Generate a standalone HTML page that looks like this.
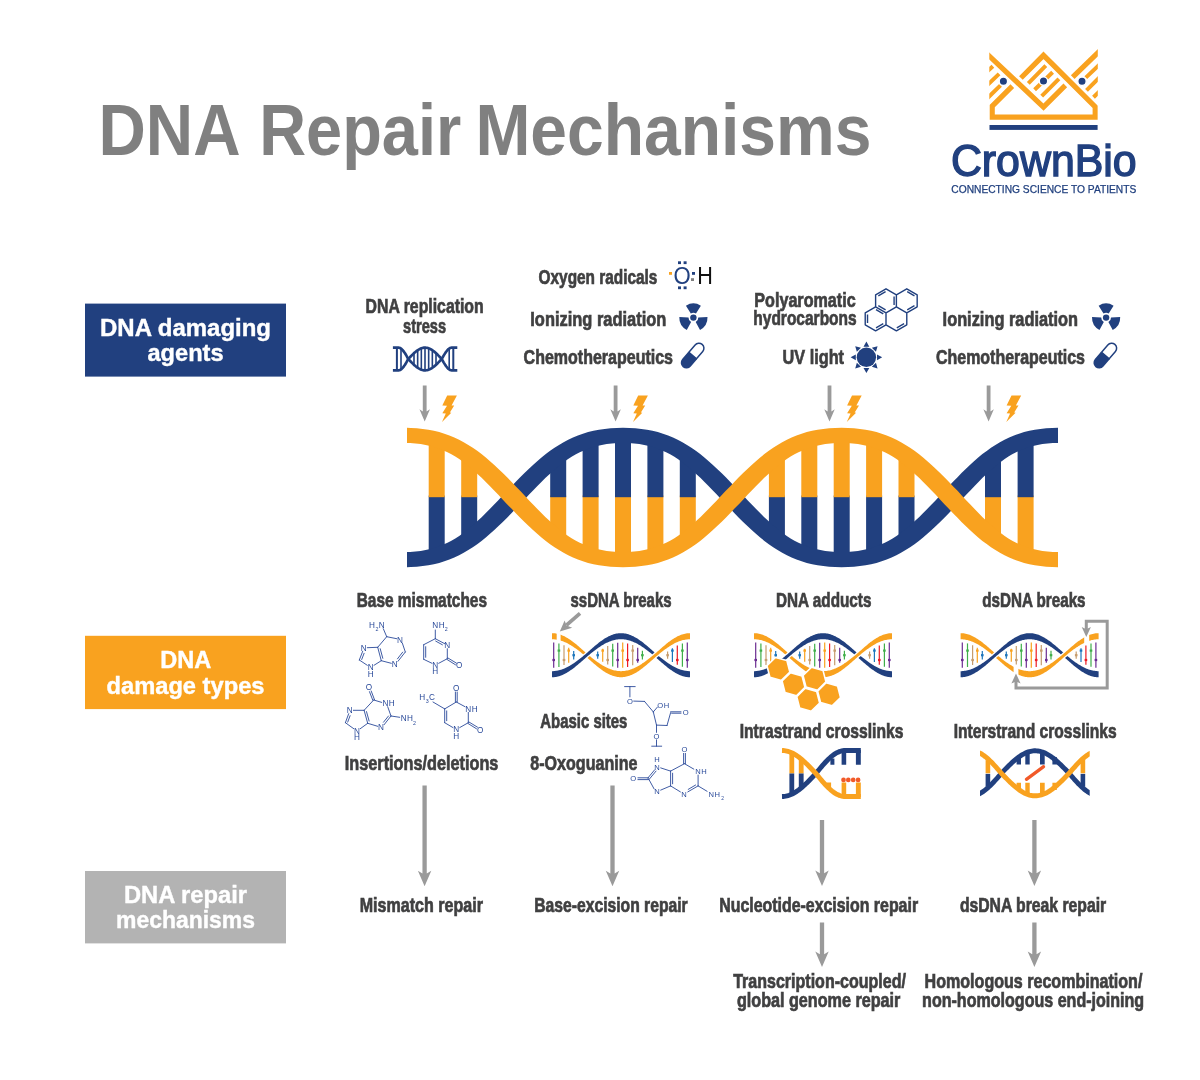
<!DOCTYPE html>
<html><head><meta charset="utf-8"><title>DNA Repair Mechanisms</title>
<style>
html,body{margin:0;padding:0;background:#fff;}
svg{display:block;font-family:"Liberation Sans",sans-serif;will-change:transform;}
</style></head><body>
<svg width="1200" height="1080" viewBox="0 0 1200 1080">
<rect width="1200" height="1080" fill="#fff"/>
<text x="98.5" y="155.0" font-size="72.5" font-weight="bold" fill="#808080" textLength="142.0" lengthAdjust="spacingAndGlyphs">DNA</text>
<text x="259.2" y="155.0" font-size="72.5" font-weight="bold" fill="#808080" textLength="202.0" lengthAdjust="spacingAndGlyphs">Repair</text>
<text x="475.4" y="155.0" font-size="72.5" font-weight="bold" fill="#808080" textLength="396.0" lengthAdjust="spacingAndGlyphs">Mechanisms</text>
<rect x="85" y="303.6" width="201" height="73" fill="#21407F"/>
<rect x="85" y="635.8" width="201" height="73.3" fill="#F9A21F"/>
<rect x="85" y="871" width="201" height="72.4" fill="#B3B3B3"/>
<clipPath id="lens"><path d="M407.0,435.5 L409.0,435.5 L411.0,435.6 L413.0,435.7 L415.0,435.8 L417.0,436.0 L419.0,436.2 L421.0,436.4 L423.0,436.7 L425.0,437.0 L427.0,437.3 L429.0,437.7 L431.0,438.2 L433.0,438.6 L435.0,439.2 L437.0,439.7 L439.0,440.3 L441.0,440.9 L443.0,441.7 L445.0,442.4 L447.0,443.2 L449.0,444.1 L451.0,444.9 L453.0,445.9 L455.0,446.9 L457.0,448.0 L459.0,449.1 L461.0,450.3 L463.0,451.5 L465.0,452.8 L467.0,454.2 L469.0,455.6 L471.0,457.1 L473.0,458.6 L475.0,460.1 L477.0,461.8 L479.0,463.4 L481.0,465.1 L483.0,466.9 L485.0,468.7 L487.0,470.5 L489.0,472.4 L491.0,474.3 L493.0,476.3 L495.0,478.2 L497.0,480.2 L499.0,482.3 L501.0,484.3 L503.0,486.4 L505.0,488.4 L507.0,490.5 L509.0,492.6 L511.0,494.8 L513.0,496.9 L515.0,496.0 L517.0,493.9 L519.0,491.8 L521.0,489.7 L523.0,487.6 L525.0,485.6 L527.0,483.5 L529.0,481.5 L531.0,479.5 L533.0,477.5 L535.0,475.5 L537.0,473.6 L539.0,471.7 L541.0,469.8 L543.0,468.0 L545.0,466.2 L547.0,464.5 L549.0,462.8 L551.0,461.1 L553.0,459.6 L555.0,458.0 L557.0,456.5 L559.0,455.1 L561.0,453.7 L563.0,452.4 L565.0,451.1 L567.0,449.9 L569.0,448.7 L571.0,447.6 L573.0,446.6 L575.0,445.6 L577.0,444.6 L579.0,443.8 L581.0,442.9 L583.0,442.2 L585.0,441.4 L587.0,440.7 L589.0,440.1 L591.0,439.5 L593.0,439.0 L595.0,438.5 L597.0,438.0 L599.0,437.6 L601.0,437.2 L603.0,436.9 L605.0,436.6 L607.0,436.3 L609.0,436.1 L611.0,435.9 L613.0,435.8 L615.0,435.6 L617.0,435.5 L619.0,435.5 L621.0,435.4 L623.0,435.4 L625.0,435.4 L627.0,435.5 L629.0,435.5 L631.0,435.6 L633.0,435.8 L635.0,435.9 L637.0,436.1 L639.0,436.3 L641.0,436.6 L643.0,436.9 L645.0,437.2 L647.0,437.6 L649.0,438.0 L651.0,438.5 L653.0,439.0 L655.0,439.5 L657.0,440.1 L659.0,440.7 L661.0,441.4 L663.0,442.2 L665.0,442.9 L667.0,443.8 L669.0,444.7 L671.0,445.6 L673.0,446.6 L675.0,447.6 L677.0,448.8 L679.0,449.9 L681.0,451.1 L683.0,452.4 L685.0,453.7 L687.0,455.1 L689.0,456.6 L691.0,458.1 L693.0,459.6 L695.0,461.2 L697.0,462.9 L699.0,464.5 L701.0,466.3 L703.0,468.1 L705.0,469.9 L707.0,471.8 L709.0,473.7 L711.0,475.6 L713.0,477.6 L715.0,479.5 L717.0,481.6 L719.0,483.6 L721.0,485.7 L723.0,487.7 L725.0,489.8 L727.0,491.9 L729.0,494.0 L731.0,496.1 L733.0,496.8 L735.0,494.6 L737.0,492.5 L739.0,490.4 L741.0,488.3 L743.0,486.3 L745.0,484.2 L747.0,482.2 L749.0,480.2 L751.0,478.2 L753.0,476.2 L755.0,474.3 L757.0,472.3 L759.0,470.5 L761.0,468.6 L763.0,466.8 L765.0,465.1 L767.0,463.4 L769.0,461.7 L771.0,460.1 L773.0,458.5 L775.0,457.0 L777.0,455.6 L779.0,454.2 L781.0,452.8 L783.0,451.5 L785.0,450.3 L787.0,449.1 L789.0,448.0 L791.0,446.9 L793.0,445.9 L795.0,444.9 L797.0,444.0 L799.0,443.2 L801.0,442.4 L803.0,441.6 L805.0,440.9 L807.0,440.3 L809.0,439.7 L811.0,439.1 L813.0,438.6 L815.0,438.2 L817.0,437.7 L819.0,437.3 L821.0,437.0 L823.0,436.7 L825.0,436.4 L827.0,436.2 L829.0,436.0 L831.0,435.8 L833.0,435.7 L835.0,435.6 L837.0,435.5 L839.0,435.5 L841.0,435.4 L843.0,435.4 L845.0,435.5 L847.0,435.5 L849.0,435.6 L851.0,435.7 L853.0,435.9 L855.0,436.1 L857.0,436.3 L859.0,436.5 L861.0,436.8 L863.0,437.1 L865.0,437.5 L867.0,437.9 L869.0,438.3 L871.0,438.8 L873.0,439.3 L875.0,439.9 L877.0,440.5 L879.0,441.2 L881.0,441.9 L883.0,442.7 L885.0,443.5 L887.0,444.4 L889.0,445.3 L891.0,446.3 L893.0,447.3 L895.0,448.4 L897.0,449.5 L899.0,450.7 L901.0,452.0 L903.0,453.3 L905.0,454.7 L907.0,456.1 L909.0,457.6 L911.0,459.1 L913.0,460.7 L915.0,462.3 L917.0,464.0 L919.0,465.7 L921.0,467.5 L923.0,469.3 L925.0,471.1 L927.0,473.0 L929.0,474.9 L931.0,476.9 L933.0,478.9 L935.0,480.9 L937.0,482.9 L939.0,484.9 L941.0,487.0 L943.0,489.1 L945.0,491.2 L947.0,493.3 L949.0,495.4 L951.0,497.5 L953.0,495.4 L955.0,493.2 L957.0,491.1 L959.0,488.9 L961.0,486.8 L963.0,484.7 L965.0,482.6 L967.0,480.6 L969.0,478.5 L971.0,476.5 L973.0,474.5 L975.0,472.6 L977.0,470.7 L979.0,468.8 L981.0,467.0 L983.0,465.2 L985.0,463.4 L987.0,461.8 L989.0,460.1 L991.0,458.5 L993.0,457.0 L995.0,455.5 L997.0,454.1 L999.0,452.7 L1001.0,451.4 L1003.0,450.1 L1005.0,448.9 L1007.0,447.8 L1009.0,446.7 L1011.0,445.7 L1013.0,444.7 L1015.0,443.9 L1017.0,443.0 L1019.0,442.2 L1021.0,441.4 L1023.0,440.8 L1025.0,440.1 L1027.0,439.5 L1029.0,439.0 L1031.0,438.4 L1033.0,438.0 L1035.0,437.6 L1037.0,437.2 L1039.0,436.9 L1041.0,436.6 L1043.0,436.3 L1045.0,436.1 L1047.0,435.9 L1049.0,435.7 L1051.0,435.6 L1053.0,435.5 L1055.0,435.5 L1057.0,435.4 L1057.0,559.6 L1055.0,559.5 L1053.0,559.5 L1051.0,559.4 L1049.0,559.3 L1047.0,559.1 L1045.0,558.9 L1043.0,558.7 L1041.0,558.4 L1039.0,558.1 L1037.0,557.8 L1035.0,557.4 L1033.0,557.0 L1031.0,556.6 L1029.0,556.0 L1027.0,555.5 L1025.0,554.9 L1023.0,554.2 L1021.0,553.6 L1019.0,552.8 L1017.0,552.0 L1015.0,551.1 L1013.0,550.3 L1011.0,549.3 L1009.0,548.3 L1007.0,547.2 L1005.0,546.1 L1003.0,544.9 L1001.0,543.6 L999.0,542.3 L997.0,540.9 L995.0,539.5 L993.0,538.0 L991.0,536.5 L989.0,534.9 L987.0,533.2 L985.0,531.6 L983.0,529.8 L981.0,528.0 L979.0,526.2 L977.0,524.3 L975.0,522.4 L973.0,520.5 L971.0,518.5 L969.0,516.5 L967.0,514.4 L965.0,512.4 L963.0,510.3 L961.0,508.2 L959.0,506.1 L957.0,503.9 L955.0,501.8 L953.0,499.6 L951.0,497.5 L949.0,499.6 L947.0,501.7 L945.0,503.8 L943.0,505.9 L941.0,508.0 L939.0,510.1 L937.0,512.1 L935.0,514.1 L933.0,516.1 L931.0,518.1 L929.0,520.1 L927.0,522.0 L925.0,523.9 L923.0,525.7 L921.0,527.5 L919.0,529.3 L917.0,531.0 L915.0,532.7 L913.0,534.3 L911.0,535.9 L909.0,537.4 L907.0,538.9 L905.0,540.3 L903.0,541.7 L901.0,543.0 L899.0,544.3 L897.0,545.5 L895.0,546.6 L893.0,547.7 L891.0,548.7 L889.0,549.7 L887.0,550.6 L885.0,551.5 L883.0,552.3 L881.0,553.1 L879.0,553.8 L877.0,554.5 L875.0,555.1 L873.0,555.7 L871.0,556.2 L869.0,556.7 L867.0,557.1 L865.0,557.5 L863.0,557.9 L861.0,558.2 L859.0,558.5 L857.0,558.7 L855.0,558.9 L853.0,559.1 L851.0,559.3 L849.0,559.4 L847.0,559.5 L845.0,559.5 L843.0,559.6 L841.0,559.6 L839.0,559.5 L837.0,559.5 L835.0,559.4 L833.0,559.3 L831.0,559.2 L829.0,559.0 L827.0,558.8 L825.0,558.6 L823.0,558.3 L821.0,558.0 L819.0,557.7 L817.0,557.3 L815.0,556.8 L813.0,556.4 L811.0,555.9 L809.0,555.3 L807.0,554.7 L805.0,554.1 L803.0,553.4 L801.0,552.6 L799.0,551.8 L797.0,551.0 L795.0,550.1 L793.0,549.1 L791.0,548.1 L789.0,547.0 L787.0,545.9 L785.0,544.7 L783.0,543.5 L781.0,542.2 L779.0,540.8 L777.0,539.4 L775.0,538.0 L773.0,536.5 L771.0,534.9 L769.0,533.3 L767.0,531.6 L765.0,529.9 L763.0,528.2 L761.0,526.4 L759.0,524.5 L757.0,522.7 L755.0,520.7 L753.0,518.8 L751.0,516.8 L749.0,514.8 L747.0,512.8 L745.0,510.8 L743.0,508.7 L741.0,506.7 L739.0,504.6 L737.0,502.5 L735.0,500.4 L733.0,498.2 L731.0,498.9 L729.0,501.0 L727.0,503.1 L725.0,505.2 L723.0,507.3 L721.0,509.3 L719.0,511.4 L717.0,513.4 L715.0,515.5 L713.0,517.4 L711.0,519.4 L709.0,521.3 L707.0,523.2 L705.0,525.1 L703.0,526.9 L701.0,528.7 L699.0,530.5 L697.0,532.1 L695.0,533.8 L693.0,535.4 L691.0,536.9 L689.0,538.4 L687.0,539.9 L685.0,541.3 L683.0,542.6 L681.0,543.9 L679.0,545.1 L677.0,546.2 L675.0,547.4 L673.0,548.4 L671.0,549.4 L669.0,550.3 L667.0,551.2 L665.0,552.1 L663.0,552.8 L661.0,553.6 L659.0,554.3 L657.0,554.9 L655.0,555.5 L653.0,556.0 L651.0,556.5 L649.0,557.0 L647.0,557.4 L645.0,557.8 L643.0,558.1 L641.0,558.4 L639.0,558.7 L637.0,558.9 L635.0,559.1 L633.0,559.2 L631.0,559.4 L629.0,559.5 L627.0,559.5 L625.0,559.6 L623.0,559.6 L621.0,559.6 L619.0,559.5 L617.0,559.5 L615.0,559.4 L613.0,559.2 L611.0,559.1 L609.0,558.9 L607.0,558.7 L605.0,558.4 L603.0,558.1 L601.0,557.8 L599.0,557.4 L597.0,557.0 L595.0,556.5 L593.0,556.0 L591.0,555.5 L589.0,554.9 L587.0,554.3 L585.0,553.6 L583.0,552.8 L581.0,552.1 L579.0,551.2 L577.0,550.4 L575.0,549.4 L573.0,548.4 L571.0,547.4 L569.0,546.3 L567.0,545.1 L565.0,543.9 L563.0,542.6 L561.0,541.3 L559.0,539.9 L557.0,538.5 L555.0,537.0 L553.0,535.4 L551.0,533.9 L549.0,532.2 L547.0,530.5 L545.0,528.8 L543.0,527.0 L541.0,525.2 L539.0,523.3 L537.0,521.4 L535.0,519.5 L533.0,517.5 L531.0,515.5 L529.0,513.5 L527.0,511.5 L525.0,509.4 L523.0,507.4 L521.0,505.3 L519.0,503.2 L517.0,501.1 L515.0,499.0 L513.0,498.1 L511.0,500.2 L509.0,502.4 L507.0,504.5 L505.0,506.6 L503.0,508.6 L501.0,510.7 L499.0,512.7 L497.0,514.8 L495.0,516.8 L493.0,518.7 L491.0,520.7 L489.0,522.6 L487.0,524.5 L485.0,526.3 L483.0,528.1 L481.0,529.9 L479.0,531.6 L477.0,533.2 L475.0,534.9 L473.0,536.4 L471.0,537.9 L469.0,539.4 L467.0,540.8 L465.0,542.2 L463.0,543.5 L461.0,544.7 L459.0,545.9 L457.0,547.0 L455.0,548.1 L453.0,549.1 L451.0,550.1 L449.0,550.9 L447.0,551.8 L445.0,552.6 L443.0,553.3 L441.0,554.1 L439.0,554.7 L437.0,555.3 L435.0,555.8 L433.0,556.4 L431.0,556.8 L429.0,557.3 L427.0,557.7 L425.0,558.0 L423.0,558.3 L421.0,558.6 L419.0,558.8 L417.0,559.0 L415.0,559.2 L413.0,559.3 L411.0,559.4 L409.0,559.5 L407.0,559.5Z"/></clipPath>
<clipPath id="hx"><rect x="407" y="410" width="651" height="175"/></clipPath>
<g clip-path="url(#lens)">
<rect x="428.7" y="495.5" width="16" height="66.1" fill="#21407F"/>
<rect x="428.7" y="433.4" width="16" height="63.8" fill="#F9A21F"/>
<rect x="461.2" y="495.5" width="16" height="66.1" fill="#21407F"/>
<rect x="461.2" y="433.4" width="16" height="63.8" fill="#F9A21F"/>
<rect x="550.2" y="495.5" width="16" height="66.1" fill="#F9A21F"/>
<rect x="550.2" y="433.4" width="16" height="63.8" fill="#21407F"/>
<rect x="582.6" y="495.5" width="16" height="66.1" fill="#F9A21F"/>
<rect x="582.6" y="433.4" width="16" height="63.8" fill="#21407F"/>
<rect x="615.0" y="495.5" width="16" height="66.1" fill="#F9A21F"/>
<rect x="615.0" y="433.4" width="16" height="63.8" fill="#21407F"/>
<rect x="647.4" y="495.5" width="16" height="66.1" fill="#F9A21F"/>
<rect x="647.4" y="433.4" width="16" height="63.8" fill="#21407F"/>
<rect x="679.8" y="495.5" width="16" height="66.1" fill="#F9A21F"/>
<rect x="679.8" y="433.4" width="16" height="63.8" fill="#21407F"/>
<rect x="768.9" y="495.5" width="16" height="66.1" fill="#21407F"/>
<rect x="768.9" y="433.4" width="16" height="63.8" fill="#F9A21F"/>
<rect x="801.3" y="495.5" width="16" height="66.1" fill="#21407F"/>
<rect x="801.3" y="433.4" width="16" height="63.8" fill="#F9A21F"/>
<rect x="833.7" y="495.5" width="16" height="66.1" fill="#21407F"/>
<rect x="833.7" y="433.4" width="16" height="63.8" fill="#F9A21F"/>
<rect x="866.1" y="495.5" width="16" height="66.1" fill="#21407F"/>
<rect x="866.1" y="433.4" width="16" height="63.8" fill="#F9A21F"/>
<rect x="898.5" y="495.5" width="16" height="66.1" fill="#21407F"/>
<rect x="898.5" y="433.4" width="16" height="63.8" fill="#F9A21F"/>
<rect x="985.0" y="495.5" width="16" height="66.1" fill="#F9A21F"/>
<rect x="985.0" y="433.4" width="16" height="63.8" fill="#21407F"/>
<rect x="1017.6" y="495.5" width="16" height="66.1" fill="#F9A21F"/>
<rect x="1017.6" y="433.4" width="16" height="63.8" fill="#21407F"/>
</g>
<g clip-path="url(#hx)">
<path d="M404.2,552.0 L410.1,551.9 L415.5,551.5 L420.7,550.9 L425.6,550.1 L430.3,549.0 L434.8,547.8 L439.2,546.3 L443.4,544.6 L447.5,542.7 L451.4,540.7 L455.3,538.4 L459.2,535.9 L463.0,533.2 L466.7,530.3 L470.5,527.3 L474.2,524.0 L478.0,520.5 L481.9,516.9 L485.8,513.0 L489.8,509.0 L493.9,504.8 L498.1,500.4 L502.4,495.8 L506.8,491.1 L511.4,486.4 L515.8,481.8 L520.2,477.3 L524.5,473.0 L528.7,468.9 L533.0,464.9 L537.2,461.2 L541.5,457.5 L545.8,454.1 L550.1,450.8 L554.5,447.8 L559.0,444.9 L563.6,442.2 L568.2,439.7 L573.0,437.5 L577.9,435.5 L582.9,433.7 L588.1,432.1 L593.5,430.8 L599.0,429.7 L604.7,428.9 L610.6,428.3 L616.7,427.9 L623.0,427.8 L629.3,427.9 L635.4,428.3 L641.3,428.9 L647.0,429.7 L652.5,430.8 L657.8,432.1 L663.0,433.7 L668.1,435.5 L673.0,437.5 L677.7,439.7 L682.4,442.2 L687.0,444.9 L691.4,447.8 L695.8,450.8 L700.2,454.1 L704.4,457.5 L708.7,461.2 L712.9,464.9 L717.2,468.9 L721.5,473.0 L725.8,477.3 L730.1,481.8 L734.5,486.4 L739.1,491.1 L743.5,495.8 L747.8,500.4 L752.0,504.8 L756.1,509.0 L760.1,513.0 L764.0,516.9 L767.9,520.5 L771.7,524.0 L775.5,527.3 L779.2,530.3 L783.0,533.2 L786.8,535.9 L790.6,538.4 L794.5,540.7 L798.5,542.7 L802.6,544.6 L806.8,546.3 L811.1,547.8 L815.7,549.0 L820.4,550.1 L825.3,550.9 L830.5,551.5 L835.9,551.9 L841.6,552.0 L847.3,551.9 L852.7,551.5 L857.9,550.9 L862.8,550.1 L867.6,549.0 L872.1,547.8 L876.5,546.3 L880.7,544.6 L884.8,542.7 L888.7,540.7 L892.6,538.4 L896.5,535.9 L900.3,533.2 L904.0,530.3 L907.8,527.3 L911.6,524.0 L915.4,520.5 L919.3,516.9 L923.2,513.0 L927.2,509.0 L931.3,504.8 L935.5,500.4 L939.8,495.8 L944.2,491.1 L948.6,486.4 L953.0,481.8 L957.3,477.4 L961.5,473.1 L965.7,469.0 L969.9,465.0 L974.0,461.2 L978.2,457.6 L982.4,454.1 L986.7,450.9 L991.0,447.8 L995.4,444.9 L999.9,442.2 L1004.5,439.8 L1009.2,437.5 L1014.0,435.5 L1019.0,433.7 L1024.1,432.1 L1029.4,430.8 L1034.8,429.7 L1040.4,428.9 L1046.2,428.3 L1052.2,427.9 L1058.2,427.8 L1058.6,443.0 L1052.8,443.1 L1047.5,443.5 L1042.4,444.1 L1037.6,444.9 L1033.0,446.0 L1028.5,447.2 L1024.3,448.7 L1020.1,450.4 L1016.1,452.2 L1012.2,454.3 L1008.4,456.6 L1004.7,459.1 L1001.0,461.7 L997.3,464.6 L993.6,467.7 L989.9,470.9 L986.1,474.4 L982.3,478.1 L978.5,481.9 L974.6,485.9 L970.6,490.2 L966.4,494.5 L962.2,499.1 L957.8,503.9 L953.2,508.6 L948.8,513.2 L944.4,517.7 L940.1,522.0 L935.9,526.1 L931.6,530.1 L927.4,533.8 L923.1,537.5 L918.8,540.9 L914.5,544.2 L910.1,547.2 L905.6,550.1 L901.0,552.8 L896.4,555.3 L891.6,557.5 L886.7,559.5 L881.7,561.3 L876.5,562.9 L871.1,564.2 L865.6,565.3 L859.9,566.1 L854.0,566.7 L847.9,567.1 L841.6,567.2 L835.3,567.1 L829.2,566.7 L823.3,566.1 L817.6,565.3 L812.1,564.2 L806.8,562.9 L801.6,561.3 L796.5,559.5 L791.6,557.5 L786.9,555.3 L782.2,552.8 L777.6,550.1 L773.2,547.2 L768.8,544.2 L764.4,540.9 L760.2,537.5 L755.9,533.8 L751.7,530.1 L747.4,526.1 L743.1,522.0 L738.8,517.7 L734.5,513.2 L730.1,508.6 L725.5,503.9 L721.1,499.2 L716.8,494.6 L712.6,490.2 L708.5,486.0 L704.5,482.0 L700.6,478.1 L696.7,474.5 L692.9,471.0 L689.1,467.7 L685.4,464.7 L681.6,461.8 L677.8,459.1 L674.0,456.6 L670.1,454.3 L666.1,452.3 L662.0,450.4 L657.8,448.7 L653.5,447.2 L648.9,446.0 L644.2,444.9 L639.3,444.1 L634.1,443.5 L628.7,443.1 L623.0,443.0 L617.3,443.1 L611.9,443.5 L606.7,444.1 L601.8,444.9 L597.0,446.0 L592.5,447.2 L588.1,448.7 L583.9,450.4 L579.8,452.3 L575.9,454.3 L572.0,456.6 L568.1,459.1 L564.3,461.8 L560.6,464.7 L556.8,467.7 L553.0,471.0 L549.2,474.5 L545.3,478.1 L541.4,482.0 L537.4,486.0 L533.3,490.2 L529.1,494.6 L524.8,499.2 L520.4,503.9 L515.9,508.6 L511.4,513.2 L507.1,517.7 L502.8,522.0 L498.5,526.1 L494.3,530.1 L490.0,533.8 L485.8,537.5 L481.5,540.9 L477.2,544.2 L472.8,547.2 L468.3,550.1 L463.7,552.8 L459.1,555.3 L454.3,557.5 L449.4,559.5 L444.4,561.3 L439.2,562.9 L433.9,564.2 L428.4,565.3 L422.7,566.1 L416.8,566.7 L410.7,567.1 L404.6,567.2Z" fill="#21407F"/>
<path d="M404.6,427.8 L410.7,427.9 L416.8,428.3 L422.7,428.9 L428.4,429.7 L433.9,430.8 L439.2,432.1 L444.4,433.7 L449.4,435.5 L454.3,437.5 L459.1,439.7 L463.7,442.2 L468.3,444.9 L472.8,447.8 L477.2,450.8 L481.5,454.1 L485.8,457.5 L490.0,461.2 L494.3,464.9 L498.5,468.9 L502.8,473.0 L507.1,477.3 L511.4,481.8 L515.9,486.4 L520.4,491.1 L524.8,495.8 L529.1,500.4 L533.3,504.8 L537.4,509.0 L541.4,513.0 L545.3,516.9 L549.2,520.5 L553.0,524.0 L556.8,527.3 L560.6,530.3 L564.3,533.2 L568.1,535.9 L572.0,538.4 L575.9,540.7 L579.8,542.7 L583.9,544.6 L588.1,546.3 L592.5,547.8 L597.0,549.0 L601.8,550.1 L606.7,550.9 L611.9,551.5 L617.3,551.9 L623.0,552.0 L628.7,551.9 L634.1,551.5 L639.3,550.9 L644.2,550.1 L648.9,549.0 L653.5,547.8 L657.8,546.3 L662.0,544.6 L666.1,542.7 L670.1,540.7 L674.0,538.4 L677.8,535.9 L681.6,533.2 L685.4,530.3 L689.1,527.3 L692.9,524.0 L696.7,520.5 L700.6,516.9 L704.5,513.0 L708.5,509.0 L712.6,504.8 L716.8,500.4 L721.1,495.8 L725.5,491.1 L730.1,486.4 L734.5,481.8 L738.8,477.3 L743.1,473.0 L747.4,468.9 L751.7,464.9 L755.9,461.2 L760.2,457.5 L764.4,454.1 L768.8,450.8 L773.2,447.8 L777.6,444.9 L782.2,442.2 L786.9,439.7 L791.6,437.5 L796.5,435.5 L801.6,433.7 L806.8,432.1 L812.1,430.8 L817.6,429.7 L823.3,428.9 L829.2,428.3 L835.3,427.9 L841.6,427.8 L847.9,427.9 L854.0,428.3 L859.9,428.9 L865.6,429.7 L871.1,430.8 L876.5,432.1 L881.7,433.7 L886.7,435.5 L891.6,437.5 L896.4,439.7 L901.0,442.2 L905.6,444.9 L910.1,447.8 L914.5,450.8 L918.8,454.1 L923.1,457.5 L927.4,461.2 L931.6,464.9 L935.9,468.9 L940.1,473.0 L944.4,477.3 L948.8,481.8 L953.2,486.4 L957.8,491.1 L962.2,495.9 L966.4,500.5 L970.6,504.8 L974.6,509.1 L978.5,513.1 L982.3,516.9 L986.1,520.6 L989.9,524.1 L993.6,527.3 L997.3,530.4 L1001.0,533.3 L1004.7,535.9 L1008.4,538.4 L1012.2,540.7 L1016.1,542.8 L1020.1,544.6 L1024.3,546.3 L1028.5,547.8 L1033.0,549.0 L1037.6,550.1 L1042.4,550.9 L1047.5,551.5 L1052.8,551.9 L1058.6,552.0 L1058.2,567.2 L1052.2,567.1 L1046.2,566.7 L1040.4,566.1 L1034.8,565.3 L1029.4,564.2 L1024.1,562.9 L1019.0,561.3 L1014.0,559.5 L1009.2,557.5 L1004.5,555.2 L999.9,552.8 L995.4,550.1 L991.0,547.2 L986.7,544.1 L982.4,540.9 L978.2,537.4 L974.0,533.8 L969.9,530.0 L965.7,526.0 L961.5,521.9 L957.3,517.6 L953.0,513.2 L948.6,508.6 L944.2,503.9 L939.8,499.2 L935.5,494.6 L931.3,490.2 L927.2,486.0 L923.2,482.0 L919.3,478.1 L915.4,474.5 L911.6,471.0 L907.8,467.7 L904.0,464.7 L900.3,461.8 L896.5,459.1 L892.6,456.6 L888.7,454.3 L884.8,452.3 L880.7,450.4 L876.5,448.7 L872.1,447.2 L867.6,446.0 L862.8,444.9 L857.9,444.1 L852.7,443.5 L847.3,443.1 L841.6,443.0 L835.9,443.1 L830.5,443.5 L825.3,444.1 L820.4,444.9 L815.7,446.0 L811.1,447.2 L806.8,448.7 L802.6,450.4 L798.5,452.3 L794.5,454.3 L790.6,456.6 L786.8,459.1 L783.0,461.8 L779.2,464.7 L775.5,467.7 L771.7,471.0 L767.9,474.5 L764.0,478.1 L760.1,482.0 L756.1,486.0 L752.0,490.2 L747.8,494.6 L743.5,499.2 L739.1,503.9 L734.5,508.6 L730.1,513.2 L725.8,517.7 L721.5,522.0 L717.2,526.1 L712.9,530.1 L708.7,533.8 L704.4,537.5 L700.2,540.9 L695.8,544.2 L691.4,547.2 L687.0,550.1 L682.4,552.8 L677.7,555.3 L673.0,557.5 L668.1,559.5 L663.0,561.3 L657.8,562.9 L652.5,564.2 L647.0,565.3 L641.3,566.1 L635.4,566.7 L629.3,567.1 L623.0,567.2 L616.7,567.1 L610.6,566.7 L604.7,566.1 L599.0,565.3 L593.5,564.2 L588.1,562.9 L582.9,561.3 L577.9,559.5 L573.0,557.5 L568.2,555.3 L563.6,552.8 L559.0,550.1 L554.5,547.2 L550.1,544.2 L545.8,540.9 L541.5,537.5 L537.2,533.8 L533.0,530.1 L528.7,526.1 L524.5,522.0 L520.2,517.7 L515.8,513.2 L511.4,508.6 L506.8,503.9 L502.4,499.2 L498.1,494.6 L493.9,490.2 L489.8,486.0 L485.8,482.0 L481.9,478.1 L478.0,474.5 L474.2,471.0 L470.5,467.7 L466.7,464.7 L463.0,461.8 L459.2,459.1 L455.3,456.6 L451.4,454.3 L447.5,452.3 L443.4,450.4 L439.2,448.7 L434.8,447.2 L430.3,446.0 L425.6,444.9 L420.7,444.1 L415.5,443.5 L410.1,443.1 L404.2,443.0Z" fill="#F9A21F"/>
</g>
<text x="100.0" y="336.2" font-size="23.8" font-weight="bold" fill="#fff" textLength="171.0" lengthAdjust="spacingAndGlyphs" stroke="#fff" stroke-width="0.4">DNA damaging</text>
<text x="147.5" y="361.0" font-size="23.8" font-weight="bold" fill="#fff" textLength="76.0" lengthAdjust="spacingAndGlyphs" stroke="#fff" stroke-width="0.4">agents</text>
<text x="160.2" y="667.9" font-size="23.8" font-weight="bold" fill="#fff" textLength="51.0" lengthAdjust="spacingAndGlyphs" stroke="#fff" stroke-width="0.4">DNA</text>
<text x="106.5" y="693.5" font-size="23.8" font-weight="bold" fill="#fff" textLength="158.0" lengthAdjust="spacingAndGlyphs" stroke="#fff" stroke-width="0.4">damage types</text>
<text x="124.0" y="902.5" font-size="23.8" font-weight="bold" fill="#fff" textLength="123.0" lengthAdjust="spacingAndGlyphs" stroke="#fff" stroke-width="0.4">DNA repair</text>
<text x="116.0" y="927.8" font-size="23.8" font-weight="bold" fill="#fff" textLength="139.0" lengthAdjust="spacingAndGlyphs" stroke="#fff" stroke-width="0.4">mechanisms</text>
<text x="365.6" y="313.3" font-size="20.5" font-weight="bold" fill="#404041" textLength="118.1" lengthAdjust="spacingAndGlyphs" stroke="#404041" stroke-width="0.7">DNA replication</text>
<text x="403.0" y="333.3" font-size="20.5" font-weight="bold" fill="#404041" textLength="43.1" lengthAdjust="spacingAndGlyphs" stroke="#404041" stroke-width="0.7">stress</text>
<text x="538.6" y="284.3" font-size="20.5" font-weight="bold" fill="#404041" textLength="118.8" lengthAdjust="spacingAndGlyphs" stroke="#404041" stroke-width="0.7">Oxygen radicals</text>
<text x="530.3" y="326.0" font-size="20.5" font-weight="bold" fill="#404041" textLength="136.1" lengthAdjust="spacingAndGlyphs" stroke="#404041" stroke-width="0.7">Ionizing radiation</text>
<text x="523.6" y="364.0" font-size="20.5" font-weight="bold" fill="#404041" textLength="149.4" lengthAdjust="spacingAndGlyphs" stroke="#404041" stroke-width="0.7">Chemotherapeutics</text>
<text x="754.3" y="306.5" font-size="20.5" font-weight="bold" fill="#404041" textLength="101.4" lengthAdjust="spacingAndGlyphs" stroke="#404041" stroke-width="0.7">Polyaromatic</text>
<text x="753.3" y="325.0" font-size="20.5" font-weight="bold" fill="#404041" textLength="103.4" lengthAdjust="spacingAndGlyphs" stroke="#404041" stroke-width="0.7">hydrocarbons</text>
<text x="782.6" y="363.9" font-size="20.5" font-weight="bold" fill="#404041" textLength="61.4" lengthAdjust="spacingAndGlyphs" stroke="#404041" stroke-width="0.7">UV light</text>
<text x="942.6" y="326.0" font-size="20.5" font-weight="bold" fill="#404041" textLength="135.4" lengthAdjust="spacingAndGlyphs" stroke="#404041" stroke-width="0.7">Ionizing radiation</text>
<text x="936.0" y="364.0" font-size="20.5" font-weight="bold" fill="#404041" textLength="149.0" lengthAdjust="spacingAndGlyphs" stroke="#404041" stroke-width="0.7">Chemotherapeutics</text>
<text x="356.7" y="606.9" font-size="20.5" font-weight="bold" fill="#404041" textLength="130.3" lengthAdjust="spacingAndGlyphs" stroke="#404041" stroke-width="0.7">Base mismatches</text>
<text x="570.5" y="606.9" font-size="20.5" font-weight="bold" fill="#404041" textLength="101.1" lengthAdjust="spacingAndGlyphs" stroke="#404041" stroke-width="0.7">ssDNA breaks</text>
<text x="776.0" y="606.9" font-size="20.5" font-weight="bold" fill="#404041" textLength="95.4" lengthAdjust="spacingAndGlyphs" stroke="#404041" stroke-width="0.7">DNA adducts</text>
<text x="982.2" y="606.9" font-size="20.5" font-weight="bold" fill="#404041" textLength="103.4" lengthAdjust="spacingAndGlyphs" stroke="#404041" stroke-width="0.7">dsDNA breaks</text>
<text x="540.3" y="728.3" font-size="20.5" font-weight="bold" fill="#404041" textLength="87.1" lengthAdjust="spacingAndGlyphs" stroke="#404041" stroke-width="0.7">Abasic sites</text>
<text x="530.3" y="770.0" font-size="20.5" font-weight="bold" fill="#404041" textLength="107.1" lengthAdjust="spacingAndGlyphs" stroke="#404041" stroke-width="0.7">8-Oxoguanine</text>
<text x="344.8" y="770.0" font-size="20.5" font-weight="bold" fill="#404041" textLength="153.6" lengthAdjust="spacingAndGlyphs" stroke="#404041" stroke-width="0.7">Insertions/deletions</text>
<text x="739.7" y="738.4" font-size="20.5" font-weight="bold" fill="#404041" textLength="163.7" lengthAdjust="spacingAndGlyphs" stroke="#404041" stroke-width="0.7">Intrastrand crosslinks</text>
<text x="953.7" y="738.4" font-size="20.5" font-weight="bold" fill="#404041" textLength="163.0" lengthAdjust="spacingAndGlyphs" stroke="#404041" stroke-width="0.7">Interstrand crosslinks</text>
<text x="359.7" y="912.0" font-size="20.5" font-weight="bold" fill="#404041" textLength="123.2" lengthAdjust="spacingAndGlyphs" stroke="#404041" stroke-width="0.7">Mismatch repair</text>
<text x="534.3" y="912.0" font-size="20.5" font-weight="bold" fill="#404041" textLength="153.4" lengthAdjust="spacingAndGlyphs" stroke="#404041" stroke-width="0.7">Base-excision repair</text>
<text x="719.2" y="912.0" font-size="20.5" font-weight="bold" fill="#404041" textLength="198.9" lengthAdjust="spacingAndGlyphs" stroke="#404041" stroke-width="0.7">Nucleotide-excision repair</text>
<text x="959.9" y="912.0" font-size="20.5" font-weight="bold" fill="#404041" textLength="146.3" lengthAdjust="spacingAndGlyphs" stroke="#404041" stroke-width="0.7">dsDNA break repair</text>
<text x="733.2" y="987.9" font-size="20.5" font-weight="bold" fill="#404041" textLength="172.7" lengthAdjust="spacingAndGlyphs" stroke="#404041" stroke-width="0.7">Transcription-coupled/</text>
<text x="736.9" y="1007.1" font-size="20.5" font-weight="bold" fill="#404041" textLength="163.5" lengthAdjust="spacingAndGlyphs" stroke="#404041" stroke-width="0.7">global genome repair</text>
<text x="924.6" y="987.9" font-size="20.5" font-weight="bold" fill="#404041" textLength="217.8" lengthAdjust="spacingAndGlyphs" stroke="#404041" stroke-width="0.7">Homologous recombination/</text>
<text x="922.1" y="1007.1" font-size="20.5" font-weight="bold" fill="#404041" textLength="222.1" lengthAdjust="spacingAndGlyphs" stroke="#404041" stroke-width="0.7">non-homologous end-joining</text>
<path d="M422.80,385.5 H426.60 V411.5 L429.95,409.3 L424.70,421.6 L419.45,409.3 L422.80,411.5 Z" fill="#9A9A9A"/>
<path d="M447.2,395.5 L456.9,395.5 L451.6,405.4 L454.2,405.4 L449.9,412.4 L451.3,412.7 L442.0,422.0 L445.8,413.6 L442.3,413.3 L447.0,405.7 L442.3,405.4Z" fill="#F9A21F"/>
<path d="M613.70,385.5 H617.50 V411.5 L620.85,409.3 L615.60,421.6 L610.35,409.3 L613.70,411.5 Z" fill="#9A9A9A"/>
<path d="M638.2,395.5 L647.9,395.5 L642.6,405.4 L645.2,405.4 L640.9,412.4 L642.3,412.7 L633.0,422.0 L636.8,413.6 L633.3,413.3 L638.0,405.7 L633.3,405.4Z" fill="#F9A21F"/>
<path d="M827.60,385.5 H831.40 V411.5 L834.75,409.3 L829.50,421.6 L824.25,409.3 L827.60,411.5 Z" fill="#9A9A9A"/>
<path d="M852.0,395.5 L861.7,395.5 L856.4,405.4 L859.0,405.4 L854.7,412.4 L856.1,412.7 L846.8,422.0 L850.6,413.6 L847.1,413.3 L851.8,405.7 L847.1,405.4Z" fill="#F9A21F"/>
<path d="M986.70,385.5 H990.50 V411.5 L993.85,409.3 L988.60,421.6 L983.35,409.3 L986.70,411.5 Z" fill="#9A9A9A"/>
<path d="M1011.5,395.5 L1021.2,395.5 L1015.9,405.4 L1018.5,405.4 L1014.2,412.4 L1015.6,412.7 L1006.3,422.0 L1010.1,413.6 L1006.6,413.3 L1011.3,405.7 L1006.6,405.4Z" fill="#F9A21F"/>
<path d="M422.45,785.6 H426.75 V873.5 L431.30,870.7 L424.60,886.2 L417.90,870.7 L422.45,873.5 Z" fill="#9A9A9A"/>
<path d="M610.35,785.6 H614.65 V873.5 L619.20,870.7 L612.50,886.2 L605.80,870.7 L610.35,873.5 Z" fill="#9A9A9A"/>
<path d="M819.85,820.0 H824.15 V873.3 L828.70,870.5 L822.00,886.0 L815.30,870.5 L819.85,873.3 Z" fill="#9A9A9A"/>
<path d="M1032.25,820.0 H1036.55 V873.3 L1041.10,870.5 L1034.40,886.0 L1027.70,870.5 L1032.25,873.3 Z" fill="#9A9A9A"/>
<path d="M819.85,922.5 H824.15 V954.3 L828.70,951.5 L822.00,967.0 L815.30,951.5 L819.85,954.3 Z" fill="#9A9A9A"/>
<path d="M1032.25,922.5 H1036.55 V954.3 L1041.10,951.5 L1034.40,967.0 L1027.70,951.5 L1032.25,954.3 Z" fill="#9A9A9A"/>
<g fill="none" stroke="#21407F">
<path d="M413.99,353.21V364.79M417.66,350.25V367.75M421.33,348.32V369.68M425.00,347.65V370.35M428.67,348.32V369.68M432.34,350.25V367.75M436.01,353.21V364.79M401.00,348.60V369.40M449.20,348.57V369.43" stroke-width="1.6"/>
<path d="M396.9,347.65V370.35M453.30,347.65V370.35" stroke-width="2.0"/>
<path d="M392.90,370.35 L393.70,370.35 L394.49,370.35 L395.29,370.35 L396.08,370.35 L396.88,370.35 L397.67,370.35 L398.47,370.35 L399.26,370.24 L400.06,369.96 L400.85,369.50 L401.65,368.88 L402.44,368.10 L403.24,367.17 L404.03,366.11 L404.83,364.94 L405.62,363.68 L406.42,362.34 L407.21,360.95 L408.01,359.53 L408.80,358.47 L409.60,357.62 L410.39,356.78 L411.19,355.96 L411.98,355.15 L412.78,354.36 L413.57,353.60 L414.37,352.87 L415.16,352.17 L415.96,351.51 L416.75,350.90 L417.55,350.33 L418.34,349.80 L419.14,349.33 L419.93,348.92 L420.73,348.55 L421.52,348.25 L422.32,348.01 L423.11,347.83 L423.91,347.71 L424.70,347.65 L425.50,347.66 L426.29,347.73 L427.09,347.87 L427.88,348.06 L428.68,348.32 L429.47,348.64 L430.27,349.02 L431.06,349.45 L431.86,349.93 L432.65,350.47 L433.45,351.05 L434.24,351.68 L435.04,352.34 L435.83,353.05 L436.63,353.79 L437.42,354.56 L438.22,355.35 L439.01,356.16 L439.81,356.99 L440.60,357.83 L441.40,358.68 L442.19,359.87 L442.99,361.26 L443.78,362.61 L444.58,363.91 L445.37,365.14 L446.17,366.27 L446.96,367.29 L447.76,368.18 L448.55,368.93 L449.35,369.54 L450.14,369.98 L450.94,370.25 L451.73,370.35 L452.53,370.35 L453.32,370.35 L454.12,370.35 L454.91,370.35 L455.71,370.35 L456.50,370.35 L457.30,370.35" stroke-width="2.7" stroke-linejoin="round"/>
<path d="M392.90,347.65 L393.70,347.65 L394.49,347.65 L395.29,347.65 L396.08,347.65 L396.88,347.65 L397.67,347.65 L398.47,347.65 L399.26,347.76 L400.06,348.04 L400.85,348.50 L401.65,349.12 L402.44,349.90 L403.24,350.83 L404.03,351.89 L404.83,353.06 L405.62,354.32 L406.42,355.66 L407.21,357.05 L408.01,358.47 L408.80,359.53 L409.60,360.38 L410.39,361.22 L411.19,362.04 L411.98,362.85 L412.78,363.64 L413.57,364.40 L414.37,365.13 L415.16,365.83 L415.96,366.49 L416.75,367.10 L417.55,367.67 L418.34,368.20 L419.14,368.67 L419.93,369.08 L420.73,369.45 L421.52,369.75 L422.32,369.99 L423.11,370.17 L423.91,370.29 L424.70,370.35 L425.50,370.34 L426.29,370.27 L427.09,370.13 L427.88,369.94 L428.68,369.68 L429.47,369.36 L430.27,368.98 L431.06,368.55 L431.86,368.07 L432.65,367.53 L433.45,366.95 L434.24,366.32 L435.04,365.66 L435.83,364.95 L436.63,364.21 L437.42,363.44 L438.22,362.65 L439.01,361.84 L439.81,361.01 L440.60,360.17 L441.40,359.32 L442.19,358.13 L442.99,356.74 L443.78,355.39 L444.58,354.09 L445.37,352.86 L446.17,351.73 L446.96,350.71 L447.76,349.82 L448.55,349.07 L449.35,348.46 L450.14,348.02 L450.94,347.75 L451.73,347.65 L452.53,347.65 L453.32,347.65 L454.12,347.65 L454.91,347.65 L455.71,347.65 L456.50,347.65 L457.30,347.65" stroke-width="2.7" stroke-linejoin="round"/>
</g>
<text x="673.6" y="284" font-size="23.5" font-weight="normal" fill="#21407F" textLength="17.2" lengthAdjust="spacingAndGlyphs">O</text>
<text x="697.2" y="284" font-size="23.5" font-weight="normal" fill="#111" textLength="15.6" lengthAdjust="spacingAndGlyphs">H</text>
<rect x="678" y="261.3" width="3" height="2.8" fill="#21407F"/>
<rect x="683.6" y="261.3" width="3" height="2.8" fill="#21407F"/>
<rect x="678" y="286.4" width="3" height="2.8" fill="#21407F"/>
<rect x="683.6" y="286.4" width="3" height="2.8" fill="#21407F"/>
<rect x="692" y="272" width="3" height="2.8" fill="#21407F"/>
<rect x="691" y="278.2" width="3" height="2.8" fill="#808080"/>
<rect x="669" y="272" width="3" height="2.8" fill="#F9A21F"/>
<path d="M690.80,313.44L685.93,305.64A14.1,14.1 0 0 1 700.87,305.64L696.00,313.44A4.9,4.9 0 0 0 690.80,313.44ZM698.30,317.43L707.49,317.11A14.1,14.1 0 0 1 700.02,330.05L695.70,321.93A4.9,4.9 0 0 0 698.30,317.43ZM691.10,321.93L686.78,330.05A14.1,14.1 0 0 1 679.31,317.11L688.50,317.43A4.9,4.9 0 0 0 691.10,321.93Z" fill="#21407F"/><circle cx="693.4" cy="317.6" r="3.2" fill="#21407F"/>
<path d="M1103.50,313.44L1098.63,305.64A14.1,14.1 0 0 1 1113.57,305.64L1108.70,313.44A4.9,4.9 0 0 0 1103.50,313.44ZM1111.00,317.43L1120.19,317.11A14.1,14.1 0 0 1 1112.72,330.05L1108.40,321.93A4.9,4.9 0 0 0 1111.00,317.43ZM1103.80,321.93L1099.48,330.05A14.1,14.1 0 0 1 1092.01,317.11L1101.20,317.43A4.9,4.9 0 0 0 1103.80,321.93Z" fill="#21407F"/><circle cx="1106.1" cy="317.6" r="3.2" fill="#21407F"/>
<g transform="translate(692.7,355.5) rotate(-49.6)">
<path d="M0,-5.0 H9.6 A5.0,5.0 0 0 1 9.6,5.0 H0 Z" fill="#fff" stroke="#21407F" stroke-width="1.5"/>
<path d="M0,-5.75 H-9.6 A5.75,5.75 0 0 0 -9.6,5.75 H0 Z" fill="#21407F"/>
</g>
<g transform="translate(1105.4,355.5) rotate(-49.6)">
<path d="M0,-5.0 H9.6 A5.0,5.0 0 0 1 9.6,5.0 H0 Z" fill="#fff" stroke="#21407F" stroke-width="1.5"/>
<path d="M0,-5.75 H-9.6 A5.75,5.75 0 0 0 -9.6,5.75 H0 Z" fill="#21407F"/>
</g>
<circle cx="866.4" cy="357.3" r="9.7" fill="#21407F"/>
<path d="M877.00,360.20L882.20,357.30L877.00,354.40ZM871.84,366.85L877.57,368.47L875.95,362.74ZM863.50,367.90L866.40,373.10L869.30,367.90ZM856.85,362.74L855.23,368.47L860.96,366.85ZM855.80,354.40L850.60,357.30L855.80,360.20ZM860.96,347.75L855.23,346.13L856.85,351.86ZM869.30,346.70L866.40,341.50L863.50,346.70ZM875.95,351.86L877.57,346.13L871.84,347.75Z" fill="#21407F"/>
<path d="M886.00,288.80 L896.39,294.80 L896.39,306.80 L886.00,312.80 L875.61,306.80 L875.61,294.80ZM906.78,288.80 L917.18,294.80 L917.18,306.80 L906.78,312.80 L896.39,306.80 L896.39,294.80ZM875.61,306.80 L886.00,312.80 L886.00,324.80 L875.61,330.80 L865.22,324.80 L865.22,312.80ZM896.39,306.80 L906.78,312.80 L906.78,324.80 L896.39,330.80 L886.00,324.80 L886.00,312.80ZM878.32,295.89L885.59,291.69M894.09,296.60L894.09,305.00M885.59,309.91L878.32,305.71M876.02,309.69L883.29,313.89M907.19,291.69L914.47,295.89M914.47,305.71L907.19,309.91M867.52,323.00L867.52,314.60M883.29,323.71L876.02,327.91M904.08,323.71L896.80,327.91" fill="none" stroke="#21407F" stroke-width="1.4" stroke-linejoin="round"/>
<path d="M553.7,642.6V667.8" stroke="#6B2C91" stroke-width="1.2" fill="none"/>
<rect x="552.4" y="658.9" width="2.6" height="2.2" fill="#6B2C91"/>
<path d="M558.9,643.4V667.0" stroke="#3FAE49" stroke-width="1.2" fill="none"/>
<rect x="557.6" y="649.5" width="2.6" height="2.2" fill="#3FAE49"/>
<path d="M564.0,645.3V665.1" stroke="#C69C6D" stroke-width="1.2" fill="none"/>
<rect x="562.7" y="658.9" width="2.6" height="2.2" fill="#C69C6D"/>
<path d="M568.7,647.7V662.7" stroke="#F9A21F" stroke-width="1.2" fill="none"/>
<rect x="567.4" y="649.5" width="2.6" height="2.2" fill="#F9A21F"/>
<path d="M573.7,651.0V659.4" stroke="#1C75BC" stroke-width="1.2" fill="none"/>
<rect x="572.4" y="654.1" width="2.6" height="2.2" fill="#1C75BC"/>
<path d="M597.7,651.6V658.8" stroke="#1C75BC" stroke-width="1.2" fill="none"/>
<rect x="596.4" y="654.1" width="2.6" height="2.2" fill="#1C75BC"/>
<path d="M602.7,648.7V661.7" stroke="#F9A21F" stroke-width="1.2" fill="none"/>
<rect x="601.4" y="649.5" width="2.6" height="2.2" fill="#F9A21F"/>
<path d="M607.7,645.9V664.5" stroke="#C69C6D" stroke-width="1.2" fill="none"/>
<rect x="606.4" y="658.9" width="2.6" height="2.2" fill="#C69C6D"/>
<path d="M612.7,643.8V666.6" stroke="#3FAE49" stroke-width="1.2" fill="none"/>
<rect x="611.4" y="649.5" width="2.6" height="2.2" fill="#3FAE49"/>
<path d="M617.7,642.7V667.7" stroke="#6B2C91" stroke-width="1.2" fill="none"/>
<rect x="616.4" y="658.9" width="2.6" height="2.2" fill="#6B2C91"/>
<path d="M622.7,642.6V667.8" stroke="#F9A21F" stroke-width="1.2" fill="none"/>
<rect x="621.4" y="649.5" width="2.6" height="2.2" fill="#F9A21F"/>
<path d="M627.6,643.4V667.0" stroke="#ED1C24" stroke-width="1.2" fill="none"/>
<rect x="626.3" y="658.9" width="2.6" height="2.2" fill="#ED1C24"/>
<path d="M632.7,645.1V665.3" stroke="#C69C6D" stroke-width="1.2" fill="none"/>
<rect x="631.4" y="649.5" width="2.6" height="2.2" fill="#C69C6D"/>
<path d="M637.7,647.7V662.7" stroke="#6B2C91" stroke-width="1.2" fill="none"/>
<rect x="636.4" y="658.9" width="2.6" height="2.2" fill="#6B2C91"/>
<path d="M642.4,650.8V659.6" stroke="#3FAE49" stroke-width="1.2" fill="none"/>
<rect x="641.1" y="654.1" width="2.6" height="2.2" fill="#3FAE49"/>
<path d="M667.6,651.6V658.8" stroke="#C69C6D" stroke-width="1.2" fill="none"/>
<rect x="666.3" y="654.1" width="2.6" height="2.2" fill="#C69C6D"/>
<path d="M672.4,648.3V662.1" stroke="#1C75BC" stroke-width="1.2" fill="none"/>
<rect x="671.1" y="649.5" width="2.6" height="2.2" fill="#1C75BC"/>
<path d="M677.3,645.6V664.8" stroke="#ED1C24" stroke-width="1.2" fill="none"/>
<rect x="676.0" y="658.9" width="2.6" height="2.2" fill="#ED1C24"/>
<path d="M682.4,643.6V666.8" stroke="#3FAE49" stroke-width="1.2" fill="none"/>
<rect x="681.1" y="649.5" width="2.6" height="2.2" fill="#3FAE49"/>
<path d="M687.3,642.6V667.8" stroke="#6B2C91" stroke-width="1.2" fill="none"/>
<rect x="686.0" y="658.9" width="2.6" height="2.2" fill="#6B2C91"/>
<clipPath id="oca"><path d="M550.0,620H556.7V700H550.0ZM560.6,620H692.0V700H560.6Z"/></clipPath>
<g clip-path="url(#oca)">
<path d="M552.00,633.15 L552.99,633.17 L553.99,633.23 L554.98,633.34 L555.97,633.49 L556.96,633.68 L557.96,633.91 L558.95,634.18 L559.94,634.49 L560.94,634.84 L561.93,635.23 L562.92,635.65 L563.91,636.12 L564.91,636.61 L565.90,637.15 L566.89,637.71 L567.88,638.31 L568.88,638.94 L569.87,639.60 L570.86,640.28 L571.86,640.99 L572.85,641.73 L573.84,642.48 L574.83,643.26 L575.83,644.06 L576.82,644.87 L577.81,645.70 L578.81,646.55 L579.80,647.40 L580.79,648.27 L581.78,649.14 L582.78,650.02 L583.77,650.89 L584.76,651.77 L585.76,652.65 L586.75,653.51 L587.74,654.36 L588.73,655.19 L589.73,656.02 L590.72,656.83 L591.71,657.64 L592.71,658.43 L593.70,659.21 L594.69,659.97 L595.68,660.72 L596.68,661.45 L597.67,662.16 L598.66,662.85 L599.65,663.52 L600.65,664.17 L601.64,664.80 L602.63,665.40 L603.63,665.98 L604.62,666.53 L605.61,667.06 L606.60,667.55 L607.60,668.02 L608.59,668.45 L609.58,668.86 L610.58,669.24 L611.57,669.58 L612.56,669.89 L613.55,670.17 L614.55,670.41 L615.54,670.62 L616.53,670.79 L617.53,670.93 L618.52,671.04 L619.51,671.11 L620.50,671.15 L621.50,671.15 L622.49,671.11 L623.48,671.04 L624.47,670.93 L625.47,670.79 L626.46,670.62 L627.45,670.41 L628.45,670.17 L629.44,669.89 L630.43,669.58 L631.42,669.24 L632.42,668.86 L633.41,668.45 L634.40,668.02 L635.40,667.55 L636.39,667.06 L637.38,666.53 L638.37,665.98 L639.37,665.40 L640.36,664.80 L641.35,664.17 L642.35,663.52 L643.34,662.85 L644.33,662.16 L645.32,661.45 L646.32,660.72 L647.31,659.97 L648.30,659.21 L649.29,658.43 L650.29,657.64 L651.28,656.83 L652.27,656.02 L653.27,655.19 L654.26,654.36 L655.25,653.51 L656.24,652.65 L657.24,651.77 L658.23,650.89 L659.22,650.02 L660.22,649.14 L661.21,648.27 L662.20,647.40 L663.19,646.55 L664.19,645.70 L665.18,644.87 L666.17,644.06 L667.17,643.26 L668.16,642.48 L669.15,641.73 L670.14,640.99 L671.14,640.28 L672.13,639.60 L673.12,638.94 L674.12,638.31 L675.11,637.71 L676.10,637.15 L677.09,636.61 L678.09,636.12 L679.08,635.65 L680.07,635.23 L681.06,634.84 L682.06,634.49 L683.05,634.18 L684.04,633.91 L685.04,633.68 L686.03,633.49 L687.02,633.34 L688.01,633.23 L689.01,633.17 L690.00,633.15 L690.00,639.25 L689.01,639.27 L688.01,639.32 L687.02,639.41 L686.03,639.53 L685.04,639.69 L684.04,639.88 L683.05,640.11 L682.06,640.37 L681.06,640.66 L680.07,640.99 L679.08,641.35 L678.09,641.74 L677.09,642.16 L676.10,642.61 L675.11,643.09 L674.12,643.60 L673.12,644.14 L672.13,644.70 L671.14,645.29 L670.14,645.91 L669.15,646.55 L668.16,647.21 L667.17,647.89 L666.17,648.59 L665.18,649.32 L664.19,650.05 L663.19,650.81 L662.20,651.58 L661.21,652.37 L660.22,653.16 L659.22,653.97 L658.23,654.79 L657.24,655.62 L656.24,656.46 L655.25,657.32 L654.26,658.19 L653.27,659.07 L652.27,659.95 L651.28,660.82 L650.29,661.70 L649.29,662.57 L648.30,663.43 L647.31,664.28 L646.32,665.11 L645.32,665.94 L644.33,666.74 L643.34,667.53 L642.35,668.30 L641.35,669.04 L640.36,669.77 L639.37,670.47 L638.37,671.14 L637.38,671.78 L636.39,672.39 L635.40,672.97 L634.40,673.52 L633.41,674.04 L632.42,674.52 L631.42,674.96 L630.43,675.37 L629.44,675.74 L628.45,676.07 L627.45,676.36 L626.46,676.61 L625.47,676.82 L624.47,676.99 L623.48,677.12 L622.49,677.20 L621.50,677.24 L620.50,677.24 L619.51,677.20 L618.52,677.12 L617.53,676.99 L616.53,676.82 L615.54,676.61 L614.55,676.36 L613.55,676.07 L612.56,675.74 L611.57,675.37 L610.58,674.96 L609.58,674.52 L608.59,674.04 L607.60,673.52 L606.60,672.97 L605.61,672.39 L604.62,671.78 L603.63,671.14 L602.63,670.47 L601.64,669.77 L600.65,669.04 L599.65,668.30 L598.66,667.53 L597.67,666.74 L596.68,665.94 L595.68,665.11 L594.69,664.28 L593.70,663.43 L592.71,662.57 L591.71,661.70 L590.72,660.82 L589.73,659.95 L588.73,659.07 L587.74,658.19 L586.75,657.32 L585.76,656.46 L584.76,655.62 L583.77,654.79 L582.78,653.97 L581.78,653.16 L580.79,652.37 L579.80,651.58 L578.81,650.81 L577.81,650.05 L576.82,649.32 L575.83,648.59 L574.83,647.89 L573.84,647.21 L572.85,646.55 L571.86,645.91 L570.86,645.29 L569.87,644.70 L568.88,644.14 L567.88,643.60 L566.89,643.09 L565.90,642.61 L564.91,642.16 L563.91,641.74 L562.92,641.35 L561.93,640.99 L560.94,640.66 L559.94,640.37 L558.95,640.11 L557.96,639.88 L556.96,639.69 L555.97,639.53 L554.98,639.41 L553.99,639.32 L552.99,639.27 L552.00,639.25Z" fill="#F9A21F"/>
</g>
<path d="M573.50,661.72 L574.46,661.07 L575.43,660.39 L576.39,659.70 L577.35,658.99 L578.31,658.27 L579.28,657.52 L580.24,656.77 L581.20,656.00 L582.17,655.22 L583.13,654.44 L584.09,653.64 L585.06,652.83 L586.02,652.01 L586.98,651.18 L587.94,650.33 L588.91,649.48 L589.87,648.63 L590.83,647.78 L591.80,646.93 L592.76,646.09 L593.72,645.25 L594.69,644.43 L595.65,643.62 L596.61,642.82 L597.57,642.03 L598.54,641.27 L599.50,640.52 L599.50,648.68 L598.54,649.33 L597.57,650.01 L596.61,650.70 L595.65,651.41 L594.69,652.13 L593.72,652.88 L592.76,653.63 L591.80,654.40 L590.83,655.18 L589.87,655.96 L588.91,656.76 L587.94,657.57 L586.98,658.39 L586.02,659.22 L585.06,660.07 L584.09,660.92 L583.13,661.77 L582.17,662.62 L581.20,663.47 L580.24,664.31 L579.28,665.15 L578.31,665.97 L577.35,666.78 L576.39,667.58 L575.43,668.37 L574.46,669.13 L573.50,669.88Z" fill="#fff"/>
<path d="M552.00,671.15 L552.99,671.13 L553.99,671.08 L554.98,670.99 L555.97,670.87 L556.96,670.71 L557.96,670.52 L558.95,670.29 L559.94,670.03 L560.94,669.74 L561.93,669.41 L562.92,669.05 L563.91,668.66 L564.91,668.24 L565.90,667.79 L566.89,667.31 L567.88,666.80 L568.88,666.26 L569.87,665.70 L570.86,665.11 L571.86,664.49 L572.85,663.85 L573.84,663.19 L574.83,662.51 L575.83,661.81 L576.82,661.08 L577.81,660.35 L578.81,659.59 L579.80,658.82 L580.79,658.03 L581.78,657.24 L582.78,656.43 L583.77,655.61 L584.76,654.78 L585.76,653.94 L586.75,653.08 L587.74,652.21 L588.73,651.33 L589.73,650.45 L590.72,649.58 L591.71,648.70 L592.71,647.83 L593.70,646.97 L594.69,646.12 L595.68,645.29 L596.68,644.46 L597.67,643.66 L598.66,642.87 L599.65,642.10 L600.65,641.36 L601.64,640.63 L602.63,639.93 L603.63,639.26 L604.62,638.62 L605.61,638.01 L606.60,637.43 L607.60,636.88 L608.59,636.36 L609.58,635.88 L610.58,635.44 L611.57,635.03 L612.56,634.66 L613.55,634.33 L614.55,634.04 L615.54,633.79 L616.53,633.58 L617.53,633.41 L618.52,633.28 L619.51,633.20 L620.50,633.16 L621.50,633.16 L622.49,633.20 L623.48,633.28 L624.47,633.41 L625.47,633.58 L626.46,633.79 L627.45,634.04 L628.45,634.33 L629.44,634.66 L630.43,635.03 L631.42,635.44 L632.42,635.88 L633.41,636.36 L634.40,636.88 L635.40,637.43 L636.39,638.01 L637.38,638.62 L638.37,639.26 L639.37,639.93 L640.36,640.63 L641.35,641.36 L642.35,642.10 L643.34,642.87 L644.33,643.66 L645.32,644.46 L646.32,645.29 L647.31,646.12 L648.30,646.97 L649.29,647.83 L650.29,648.70 L651.28,649.58 L652.27,650.45 L653.27,651.33 L654.26,652.21 L655.25,653.08 L656.24,653.94 L657.24,654.78 L658.23,655.61 L659.22,656.43 L660.22,657.24 L661.21,658.03 L662.20,658.82 L663.19,659.59 L664.19,660.35 L665.18,661.08 L666.17,661.81 L667.17,662.51 L668.16,663.19 L669.15,663.85 L670.14,664.49 L671.14,665.11 L672.13,665.70 L673.12,666.26 L674.12,666.80 L675.11,667.31 L676.10,667.79 L677.09,668.24 L678.09,668.66 L679.08,669.05 L680.07,669.41 L681.06,669.74 L682.06,670.03 L683.05,670.29 L684.04,670.52 L685.04,670.71 L686.03,670.87 L687.02,670.99 L688.01,671.08 L689.01,671.13 L690.00,671.15 L690.00,677.25 L689.01,677.23 L688.01,677.17 L687.02,677.06 L686.03,676.91 L685.04,676.72 L684.04,676.49 L683.05,676.22 L682.06,675.91 L681.06,675.56 L680.07,675.17 L679.08,674.75 L678.09,674.28 L677.09,673.79 L676.10,673.25 L675.11,672.69 L674.12,672.09 L673.12,671.46 L672.13,670.80 L671.14,670.12 L670.14,669.41 L669.15,668.67 L668.16,667.92 L667.17,667.14 L666.17,666.34 L665.18,665.53 L664.19,664.70 L663.19,663.85 L662.20,663.00 L661.21,662.13 L660.22,661.26 L659.22,660.38 L658.23,659.51 L657.24,658.63 L656.24,657.75 L655.25,656.89 L654.26,656.04 L653.27,655.21 L652.27,654.38 L651.28,653.57 L650.29,652.76 L649.29,651.97 L648.30,651.19 L647.31,650.43 L646.32,649.68 L645.32,648.95 L644.33,648.24 L643.34,647.55 L642.35,646.88 L641.35,646.23 L640.36,645.60 L639.37,645.00 L638.37,644.42 L637.38,643.87 L636.39,643.34 L635.40,642.85 L634.40,642.38 L633.41,641.95 L632.42,641.54 L631.42,641.16 L630.43,640.82 L629.44,640.51 L628.45,640.23 L627.45,639.99 L626.46,639.78 L625.47,639.61 L624.47,639.47 L623.48,639.36 L622.49,639.29 L621.50,639.25 L620.50,639.25 L619.51,639.29 L618.52,639.36 L617.53,639.47 L616.53,639.61 L615.54,639.78 L614.55,639.99 L613.55,640.23 L612.56,640.51 L611.57,640.82 L610.58,641.16 L609.58,641.54 L608.59,641.95 L607.60,642.38 L606.60,642.85 L605.61,643.34 L604.62,643.87 L603.63,644.42 L602.63,645.00 L601.64,645.60 L600.65,646.23 L599.65,646.88 L598.66,647.55 L597.67,648.24 L596.68,648.95 L595.68,649.68 L594.69,650.43 L593.70,651.19 L592.71,651.97 L591.71,652.76 L590.72,653.57 L589.73,654.38 L588.73,655.21 L587.74,656.04 L586.75,656.89 L585.76,657.75 L584.76,658.63 L583.77,659.51 L582.78,660.38 L581.78,661.26 L580.79,662.13 L579.80,663.00 L578.81,663.85 L577.81,664.70 L576.82,665.53 L575.83,666.34 L574.83,667.14 L573.84,667.92 L572.85,668.67 L571.86,669.41 L570.86,670.12 L569.87,670.80 L568.88,671.46 L567.88,672.09 L566.89,672.69 L565.90,673.25 L564.91,673.79 L563.91,674.28 L562.92,674.75 L561.93,675.17 L560.94,675.56 L559.94,675.91 L558.95,676.22 L557.96,676.49 L556.96,676.72 L555.97,676.91 L554.98,677.06 L553.99,677.17 L552.99,677.23 L552.00,677.25Z" fill="#21407F"/>
<path d="M642.50,661.72 L643.46,661.07 L644.43,660.39 L645.39,659.70 L646.35,658.99 L647.31,658.27 L648.28,657.52 L649.24,656.77 L650.20,656.00 L651.17,655.22 L652.13,654.44 L653.09,653.64 L654.06,652.83 L655.02,652.01 L655.98,651.18 L656.94,650.33 L657.91,649.48 L658.87,648.63 L659.83,647.78 L660.80,646.93 L661.76,646.09 L662.72,645.25 L663.69,644.43 L664.65,643.62 L665.61,642.82 L666.57,642.03 L667.54,641.27 L668.50,640.52 L668.50,648.68 L667.54,649.33 L666.57,650.01 L665.61,650.70 L664.65,651.41 L663.69,652.13 L662.72,652.88 L661.76,653.63 L660.80,654.40 L659.83,655.18 L658.87,655.96 L657.91,656.76 L656.94,657.57 L655.98,658.39 L655.02,659.22 L654.06,660.07 L653.09,660.92 L652.13,661.77 L651.17,662.62 L650.20,663.47 L649.24,664.31 L648.28,665.15 L647.31,665.97 L646.35,666.78 L645.39,667.58 L644.43,668.37 L643.46,669.13 L642.50,669.88Z" fill="#fff"/>
<g clip-path="url(#oca)"><path d="M642.00,663.75 L642.96,663.11 L643.93,662.44 L644.89,661.76 L645.86,661.06 L646.82,660.34 L647.79,659.60 L648.75,658.86 L649.71,658.09 L650.68,657.32 L651.64,656.54 L652.61,655.74 L653.57,654.94 L654.54,654.12 L655.50,653.30 L656.46,652.46 L657.43,651.60 L658.39,650.75 L659.36,649.90 L660.32,649.05 L661.29,648.20 L662.25,647.36 L663.21,646.53 L664.18,645.71 L665.14,644.90 L666.11,644.11 L667.07,643.34 L668.04,642.58 L669.00,641.84 L669.00,646.65 L668.04,647.29 L667.07,647.96 L666.11,648.64 L665.14,649.34 L664.18,650.06 L663.21,650.80 L662.25,651.54 L661.29,652.31 L660.32,653.08 L659.36,653.86 L658.39,654.66 L657.43,655.46 L656.46,656.28 L655.50,657.10 L654.54,657.94 L653.57,658.80 L652.61,659.65 L651.64,660.50 L650.68,661.35 L649.71,662.20 L648.75,663.04 L647.79,663.87 L646.82,664.69 L645.86,665.50 L644.89,666.29 L643.93,667.06 L642.96,667.82 L642.00,668.56Z" fill="#F9A21F"/></g>
<path d="M580.0,613.4 L566.5,625.2" stroke="#9A9A9A" stroke-width="3.7" fill="none"/>
<path d="M559.8,631.4 L564.6,620.4 L566.6,625.4 L572.2,627.8 Z" fill="#9A9A9A"/>
<path d="M755.7,642.6V667.8" stroke="#6B2C91" stroke-width="1.2" fill="none"/>
<rect x="754.4" y="658.9" width="2.6" height="2.2" fill="#6B2C91"/>
<path d="M760.9,643.4V667.0" stroke="#3FAE49" stroke-width="1.2" fill="none"/>
<rect x="759.6" y="649.5" width="2.6" height="2.2" fill="#3FAE49"/>
<path d="M766.0,645.3V665.1" stroke="#C69C6D" stroke-width="1.2" fill="none"/>
<rect x="764.7" y="658.9" width="2.6" height="2.2" fill="#C69C6D"/>
<path d="M770.7,647.7V662.7" stroke="#F9A21F" stroke-width="1.2" fill="none"/>
<rect x="769.4" y="649.5" width="2.6" height="2.2" fill="#F9A21F"/>
<path d="M775.7,651.0V659.4" stroke="#1C75BC" stroke-width="1.2" fill="none"/>
<rect x="774.4" y="654.1" width="2.6" height="2.2" fill="#1C75BC"/>
<path d="M799.7,651.6V658.8" stroke="#1C75BC" stroke-width="1.2" fill="none"/>
<rect x="798.4" y="654.1" width="2.6" height="2.2" fill="#1C75BC"/>
<path d="M804.7,648.7V661.7" stroke="#F9A21F" stroke-width="1.2" fill="none"/>
<rect x="803.4" y="649.5" width="2.6" height="2.2" fill="#F9A21F"/>
<path d="M809.7,645.9V664.5" stroke="#C69C6D" stroke-width="1.2" fill="none"/>
<rect x="808.4" y="658.9" width="2.6" height="2.2" fill="#C69C6D"/>
<path d="M814.7,643.8V666.6" stroke="#3FAE49" stroke-width="1.2" fill="none"/>
<rect x="813.4" y="649.5" width="2.6" height="2.2" fill="#3FAE49"/>
<path d="M819.7,642.7V667.7" stroke="#6B2C91" stroke-width="1.2" fill="none"/>
<rect x="818.4" y="658.9" width="2.6" height="2.2" fill="#6B2C91"/>
<path d="M824.7,642.6V667.8" stroke="#F9A21F" stroke-width="1.2" fill="none"/>
<rect x="823.4" y="649.5" width="2.6" height="2.2" fill="#F9A21F"/>
<path d="M829.6,643.4V667.0" stroke="#ED1C24" stroke-width="1.2" fill="none"/>
<rect x="828.3" y="658.9" width="2.6" height="2.2" fill="#ED1C24"/>
<path d="M834.7,645.1V665.3" stroke="#C69C6D" stroke-width="1.2" fill="none"/>
<rect x="833.4" y="649.5" width="2.6" height="2.2" fill="#C69C6D"/>
<path d="M839.7,647.7V662.7" stroke="#6B2C91" stroke-width="1.2" fill="none"/>
<rect x="838.4" y="658.9" width="2.6" height="2.2" fill="#6B2C91"/>
<path d="M844.4,650.8V659.6" stroke="#3FAE49" stroke-width="1.2" fill="none"/>
<rect x="843.1" y="654.1" width="2.6" height="2.2" fill="#3FAE49"/>
<path d="M869.6,651.6V658.8" stroke="#C69C6D" stroke-width="1.2" fill="none"/>
<rect x="868.3" y="654.1" width="2.6" height="2.2" fill="#C69C6D"/>
<path d="M874.4,648.3V662.1" stroke="#1C75BC" stroke-width="1.2" fill="none"/>
<rect x="873.1" y="649.5" width="2.6" height="2.2" fill="#1C75BC"/>
<path d="M879.3,645.6V664.8" stroke="#ED1C24" stroke-width="1.2" fill="none"/>
<rect x="878.0" y="658.9" width="2.6" height="2.2" fill="#ED1C24"/>
<path d="M884.4,643.6V666.8" stroke="#3FAE49" stroke-width="1.2" fill="none"/>
<rect x="883.1" y="649.5" width="2.6" height="2.2" fill="#3FAE49"/>
<path d="M889.3,642.6V667.8" stroke="#6B2C91" stroke-width="1.2" fill="none"/>
<rect x="888.0" y="658.9" width="2.6" height="2.2" fill="#6B2C91"/>
<g>
<path d="M754.00,633.15 L754.99,633.17 L755.99,633.23 L756.98,633.34 L757.97,633.49 L758.96,633.68 L759.96,633.91 L760.95,634.18 L761.94,634.49 L762.94,634.84 L763.93,635.23 L764.92,635.65 L765.91,636.12 L766.91,636.61 L767.90,637.15 L768.89,637.71 L769.88,638.31 L770.88,638.94 L771.87,639.60 L772.86,640.28 L773.86,640.99 L774.85,641.73 L775.84,642.48 L776.83,643.26 L777.83,644.06 L778.82,644.87 L779.81,645.70 L780.81,646.55 L781.80,647.40 L782.79,648.27 L783.78,649.14 L784.78,650.02 L785.77,650.89 L786.76,651.77 L787.76,652.65 L788.75,653.51 L789.74,654.36 L790.73,655.19 L791.73,656.02 L792.72,656.83 L793.71,657.64 L794.71,658.43 L795.70,659.21 L796.69,659.97 L797.68,660.72 L798.68,661.45 L799.67,662.16 L800.66,662.85 L801.65,663.52 L802.65,664.17 L803.64,664.80 L804.63,665.40 L805.63,665.98 L806.62,666.53 L807.61,667.06 L808.60,667.55 L809.60,668.02 L810.59,668.45 L811.58,668.86 L812.58,669.24 L813.57,669.58 L814.56,669.89 L815.55,670.17 L816.55,670.41 L817.54,670.62 L818.53,670.79 L819.53,670.93 L820.52,671.04 L821.51,671.11 L822.50,671.15 L823.50,671.15 L824.49,671.11 L825.48,671.04 L826.47,670.93 L827.47,670.79 L828.46,670.62 L829.45,670.41 L830.45,670.17 L831.44,669.89 L832.43,669.58 L833.42,669.24 L834.42,668.86 L835.41,668.45 L836.40,668.02 L837.40,667.55 L838.39,667.06 L839.38,666.53 L840.37,665.98 L841.37,665.40 L842.36,664.80 L843.35,664.17 L844.35,663.52 L845.34,662.85 L846.33,662.16 L847.32,661.45 L848.32,660.72 L849.31,659.97 L850.30,659.21 L851.29,658.43 L852.29,657.64 L853.28,656.83 L854.27,656.02 L855.27,655.19 L856.26,654.36 L857.25,653.51 L858.24,652.65 L859.24,651.77 L860.23,650.89 L861.22,650.02 L862.22,649.14 L863.21,648.27 L864.20,647.40 L865.19,646.55 L866.19,645.70 L867.18,644.87 L868.17,644.06 L869.17,643.26 L870.16,642.48 L871.15,641.73 L872.14,640.99 L873.14,640.28 L874.13,639.60 L875.12,638.94 L876.12,638.31 L877.11,637.71 L878.10,637.15 L879.09,636.61 L880.09,636.12 L881.08,635.65 L882.07,635.23 L883.06,634.84 L884.06,634.49 L885.05,634.18 L886.04,633.91 L887.04,633.68 L888.03,633.49 L889.02,633.34 L890.01,633.23 L891.01,633.17 L892.00,633.15 L892.00,639.25 L891.01,639.27 L890.01,639.32 L889.02,639.41 L888.03,639.53 L887.04,639.69 L886.04,639.88 L885.05,640.11 L884.06,640.37 L883.06,640.66 L882.07,640.99 L881.08,641.35 L880.09,641.74 L879.09,642.16 L878.10,642.61 L877.11,643.09 L876.12,643.60 L875.12,644.14 L874.13,644.70 L873.14,645.29 L872.14,645.91 L871.15,646.55 L870.16,647.21 L869.17,647.89 L868.17,648.59 L867.18,649.32 L866.19,650.05 L865.19,650.81 L864.20,651.58 L863.21,652.37 L862.22,653.16 L861.22,653.97 L860.23,654.79 L859.24,655.62 L858.24,656.46 L857.25,657.32 L856.26,658.19 L855.27,659.07 L854.27,659.95 L853.28,660.82 L852.29,661.70 L851.29,662.57 L850.30,663.43 L849.31,664.28 L848.32,665.11 L847.32,665.94 L846.33,666.74 L845.34,667.53 L844.35,668.30 L843.35,669.04 L842.36,669.77 L841.37,670.47 L840.37,671.14 L839.38,671.78 L838.39,672.39 L837.40,672.97 L836.40,673.52 L835.41,674.04 L834.42,674.52 L833.42,674.96 L832.43,675.37 L831.44,675.74 L830.45,676.07 L829.45,676.36 L828.46,676.61 L827.47,676.82 L826.47,676.99 L825.48,677.12 L824.49,677.20 L823.50,677.24 L822.50,677.24 L821.51,677.20 L820.52,677.12 L819.53,676.99 L818.53,676.82 L817.54,676.61 L816.55,676.36 L815.55,676.07 L814.56,675.74 L813.57,675.37 L812.58,674.96 L811.58,674.52 L810.59,674.04 L809.60,673.52 L808.60,672.97 L807.61,672.39 L806.62,671.78 L805.63,671.14 L804.63,670.47 L803.64,669.77 L802.65,669.04 L801.65,668.30 L800.66,667.53 L799.67,666.74 L798.68,665.94 L797.68,665.11 L796.69,664.28 L795.70,663.43 L794.71,662.57 L793.71,661.70 L792.72,660.82 L791.73,659.95 L790.73,659.07 L789.74,658.19 L788.75,657.32 L787.76,656.46 L786.76,655.62 L785.77,654.79 L784.78,653.97 L783.78,653.16 L782.79,652.37 L781.80,651.58 L780.81,650.81 L779.81,650.05 L778.82,649.32 L777.83,648.59 L776.83,647.89 L775.84,647.21 L774.85,646.55 L773.86,645.91 L772.86,645.29 L771.87,644.70 L770.88,644.14 L769.88,643.60 L768.89,643.09 L767.90,642.61 L766.91,642.16 L765.91,641.74 L764.92,641.35 L763.93,640.99 L762.94,640.66 L761.94,640.37 L760.95,640.11 L759.96,639.88 L758.96,639.69 L757.97,639.53 L756.98,639.41 L755.99,639.32 L754.99,639.27 L754.00,639.25Z" fill="#F9A21F"/>
</g>
<path d="M775.50,661.72 L776.46,661.07 L777.43,660.39 L778.39,659.70 L779.35,658.99 L780.31,658.27 L781.28,657.52 L782.24,656.77 L783.20,656.00 L784.17,655.22 L785.13,654.44 L786.09,653.64 L787.06,652.83 L788.02,652.01 L788.98,651.18 L789.94,650.33 L790.91,649.48 L791.87,648.63 L792.83,647.78 L793.80,646.93 L794.76,646.09 L795.72,645.25 L796.69,644.43 L797.65,643.62 L798.61,642.82 L799.57,642.03 L800.54,641.27 L801.50,640.52 L801.50,648.68 L800.54,649.33 L799.57,650.01 L798.61,650.70 L797.65,651.41 L796.69,652.13 L795.72,652.88 L794.76,653.63 L793.80,654.40 L792.83,655.18 L791.87,655.96 L790.91,656.76 L789.94,657.57 L788.98,658.39 L788.02,659.22 L787.06,660.07 L786.09,660.92 L785.13,661.77 L784.17,662.62 L783.20,663.47 L782.24,664.31 L781.28,665.15 L780.31,665.97 L779.35,666.78 L778.39,667.58 L777.43,668.37 L776.46,669.13 L775.50,669.88Z" fill="#fff"/>
<path d="M754.00,671.15 L754.99,671.13 L755.99,671.08 L756.98,670.99 L757.97,670.87 L758.96,670.71 L759.96,670.52 L760.95,670.29 L761.94,670.03 L762.94,669.74 L763.93,669.41 L764.92,669.05 L765.91,668.66 L766.91,668.24 L767.90,667.79 L768.89,667.31 L769.88,666.80 L770.88,666.26 L771.87,665.70 L772.86,665.11 L773.86,664.49 L774.85,663.85 L775.84,663.19 L776.83,662.51 L777.83,661.81 L778.82,661.08 L779.81,660.35 L780.81,659.59 L781.80,658.82 L782.79,658.03 L783.78,657.24 L784.78,656.43 L785.77,655.61 L786.76,654.78 L787.76,653.94 L788.75,653.08 L789.74,652.21 L790.73,651.33 L791.73,650.45 L792.72,649.58 L793.71,648.70 L794.71,647.83 L795.70,646.97 L796.69,646.12 L797.68,645.29 L798.68,644.46 L799.67,643.66 L800.66,642.87 L801.65,642.10 L802.65,641.36 L803.64,640.63 L804.63,639.93 L805.63,639.26 L806.62,638.62 L807.61,638.01 L808.60,637.43 L809.60,636.88 L810.59,636.36 L811.58,635.88 L812.58,635.44 L813.57,635.03 L814.56,634.66 L815.55,634.33 L816.55,634.04 L817.54,633.79 L818.53,633.58 L819.53,633.41 L820.52,633.28 L821.51,633.20 L822.50,633.16 L823.50,633.16 L824.49,633.20 L825.48,633.28 L826.47,633.41 L827.47,633.58 L828.46,633.79 L829.45,634.04 L830.45,634.33 L831.44,634.66 L832.43,635.03 L833.42,635.44 L834.42,635.88 L835.41,636.36 L836.40,636.88 L837.40,637.43 L838.39,638.01 L839.38,638.62 L840.37,639.26 L841.37,639.93 L842.36,640.63 L843.35,641.36 L844.35,642.10 L845.34,642.87 L846.33,643.66 L847.32,644.46 L848.32,645.29 L849.31,646.12 L850.30,646.97 L851.29,647.83 L852.29,648.70 L853.28,649.58 L854.27,650.45 L855.27,651.33 L856.26,652.21 L857.25,653.08 L858.24,653.94 L859.24,654.78 L860.23,655.61 L861.22,656.43 L862.22,657.24 L863.21,658.03 L864.20,658.82 L865.19,659.59 L866.19,660.35 L867.18,661.08 L868.17,661.81 L869.17,662.51 L870.16,663.19 L871.15,663.85 L872.14,664.49 L873.14,665.11 L874.13,665.70 L875.12,666.26 L876.12,666.80 L877.11,667.31 L878.10,667.79 L879.09,668.24 L880.09,668.66 L881.08,669.05 L882.07,669.41 L883.06,669.74 L884.06,670.03 L885.05,670.29 L886.04,670.52 L887.04,670.71 L888.03,670.87 L889.02,670.99 L890.01,671.08 L891.01,671.13 L892.00,671.15 L892.00,677.25 L891.01,677.23 L890.01,677.17 L889.02,677.06 L888.03,676.91 L887.04,676.72 L886.04,676.49 L885.05,676.22 L884.06,675.91 L883.06,675.56 L882.07,675.17 L881.08,674.75 L880.09,674.28 L879.09,673.79 L878.10,673.25 L877.11,672.69 L876.12,672.09 L875.12,671.46 L874.13,670.80 L873.14,670.12 L872.14,669.41 L871.15,668.67 L870.16,667.92 L869.17,667.14 L868.17,666.34 L867.18,665.53 L866.19,664.70 L865.19,663.85 L864.20,663.00 L863.21,662.13 L862.22,661.26 L861.22,660.38 L860.23,659.51 L859.24,658.63 L858.24,657.75 L857.25,656.89 L856.26,656.04 L855.27,655.21 L854.27,654.38 L853.28,653.57 L852.29,652.76 L851.29,651.97 L850.30,651.19 L849.31,650.43 L848.32,649.68 L847.32,648.95 L846.33,648.24 L845.34,647.55 L844.35,646.88 L843.35,646.23 L842.36,645.60 L841.37,645.00 L840.37,644.42 L839.38,643.87 L838.39,643.34 L837.40,642.85 L836.40,642.38 L835.41,641.95 L834.42,641.54 L833.42,641.16 L832.43,640.82 L831.44,640.51 L830.45,640.23 L829.45,639.99 L828.46,639.78 L827.47,639.61 L826.47,639.47 L825.48,639.36 L824.49,639.29 L823.50,639.25 L822.50,639.25 L821.51,639.29 L820.52,639.36 L819.53,639.47 L818.53,639.61 L817.54,639.78 L816.55,639.99 L815.55,640.23 L814.56,640.51 L813.57,640.82 L812.58,641.16 L811.58,641.54 L810.59,641.95 L809.60,642.38 L808.60,642.85 L807.61,643.34 L806.62,643.87 L805.63,644.42 L804.63,645.00 L803.64,645.60 L802.65,646.23 L801.65,646.88 L800.66,647.55 L799.67,648.24 L798.68,648.95 L797.68,649.68 L796.69,650.43 L795.70,651.19 L794.71,651.97 L793.71,652.76 L792.72,653.57 L791.73,654.38 L790.73,655.21 L789.74,656.04 L788.75,656.89 L787.76,657.75 L786.76,658.63 L785.77,659.51 L784.78,660.38 L783.78,661.26 L782.79,662.13 L781.80,663.00 L780.81,663.85 L779.81,664.70 L778.82,665.53 L777.83,666.34 L776.83,667.14 L775.84,667.92 L774.85,668.67 L773.86,669.41 L772.86,670.12 L771.87,670.80 L770.88,671.46 L769.88,672.09 L768.89,672.69 L767.90,673.25 L766.91,673.79 L765.91,674.28 L764.92,674.75 L763.93,675.17 L762.94,675.56 L761.94,675.91 L760.95,676.22 L759.96,676.49 L758.96,676.72 L757.97,676.91 L756.98,677.06 L755.99,677.17 L754.99,677.23 L754.00,677.25Z" fill="#21407F"/>
<path d="M844.50,661.72 L845.46,661.07 L846.43,660.39 L847.39,659.70 L848.35,658.99 L849.31,658.27 L850.28,657.52 L851.24,656.77 L852.20,656.00 L853.17,655.22 L854.13,654.44 L855.09,653.64 L856.06,652.83 L857.02,652.01 L857.98,651.18 L858.94,650.33 L859.91,649.48 L860.87,648.63 L861.83,647.78 L862.80,646.93 L863.76,646.09 L864.72,645.25 L865.69,644.43 L866.65,643.62 L867.61,642.82 L868.57,642.03 L869.54,641.27 L870.50,640.52 L870.50,648.68 L869.54,649.33 L868.57,650.01 L867.61,650.70 L866.65,651.41 L865.69,652.13 L864.72,652.88 L863.76,653.63 L862.80,654.40 L861.83,655.18 L860.87,655.96 L859.91,656.76 L858.94,657.57 L857.98,658.39 L857.02,659.22 L856.06,660.07 L855.09,660.92 L854.13,661.77 L853.17,662.62 L852.20,663.47 L851.24,664.31 L850.28,665.15 L849.31,665.97 L848.35,666.78 L847.39,667.58 L846.43,668.37 L845.46,669.13 L844.50,669.88Z" fill="#fff"/>
<g><path d="M844.00,663.75 L844.96,663.11 L845.93,662.44 L846.89,661.76 L847.86,661.06 L848.82,660.34 L849.79,659.60 L850.75,658.86 L851.71,658.09 L852.68,657.32 L853.64,656.54 L854.61,655.74 L855.57,654.94 L856.54,654.12 L857.50,653.30 L858.46,652.46 L859.43,651.60 L860.39,650.75 L861.36,649.90 L862.32,649.05 L863.29,648.20 L864.25,647.36 L865.21,646.53 L866.18,645.71 L867.14,644.90 L868.11,644.11 L869.07,643.34 L870.04,642.58 L871.00,641.84 L871.00,646.65 L870.04,647.29 L869.07,647.96 L868.11,648.64 L867.14,649.34 L866.18,650.06 L865.21,650.80 L864.25,651.54 L863.29,652.31 L862.32,653.08 L861.36,653.86 L860.39,654.66 L859.43,655.46 L858.46,656.28 L857.50,657.10 L856.54,657.94 L855.57,658.80 L854.61,659.65 L853.64,660.50 L852.68,661.35 L851.71,662.20 L850.75,663.04 L849.79,663.87 L848.82,664.69 L847.86,665.50 L846.89,666.29 L845.93,667.06 L844.96,667.82 L844.00,668.56Z" fill="#F9A21F"/></g>
<path d="M789.86,672.10 L781.36,680.43 L769.90,677.23 L766.94,665.70 L775.44,657.37 L786.90,660.57Z" fill="#F9A21F" stroke="#fff" stroke-width="1.6"/>
<path d="M804.96,687.40 L796.46,695.73 L785.00,692.53 L782.04,681.00 L790.54,672.67 L802.00,675.87Z" fill="#F9A21F" stroke="#fff" stroke-width="1.6"/>
<path d="M825.96,681.90 L817.46,690.23 L806.00,687.03 L803.04,675.50 L811.54,667.17 L823.00,670.37Z" fill="#F9A21F" stroke="#fff" stroke-width="1.6"/>
<path d="M819.66,703.00 L811.16,711.33 L799.70,708.13 L796.74,696.60 L805.24,688.27 L816.70,691.47Z" fill="#F9A21F" stroke="#fff" stroke-width="1.6"/>
<path d="M840.56,697.50 L832.06,705.83 L820.60,702.63 L817.64,691.10 L826.14,682.77 L837.60,685.97Z" fill="#F9A21F" stroke="#fff" stroke-width="1.6"/>
<path d="M962.3,642.6V667.8" stroke="#6B2C91" stroke-width="1.2" fill="none"/>
<rect x="961.0" y="658.9" width="2.6" height="2.2" fill="#6B2C91"/>
<path d="M967.5,643.4V667.0" stroke="#3FAE49" stroke-width="1.2" fill="none"/>
<rect x="966.2" y="649.5" width="2.6" height="2.2" fill="#3FAE49"/>
<path d="M972.6,645.3V665.1" stroke="#C69C6D" stroke-width="1.2" fill="none"/>
<rect x="971.3" y="658.9" width="2.6" height="2.2" fill="#C69C6D"/>
<path d="M977.3,647.7V662.7" stroke="#F9A21F" stroke-width="1.2" fill="none"/>
<rect x="976.0" y="649.5" width="2.6" height="2.2" fill="#F9A21F"/>
<path d="M982.3,651.0V659.4" stroke="#1C75BC" stroke-width="1.2" fill="none"/>
<rect x="981.0" y="654.1" width="2.6" height="2.2" fill="#1C75BC"/>
<path d="M1006.3,651.6V658.8" stroke="#1C75BC" stroke-width="1.2" fill="none"/>
<rect x="1005.0" y="654.1" width="2.6" height="2.2" fill="#1C75BC"/>
<path d="M1011.3,648.7V661.7" stroke="#F9A21F" stroke-width="1.2" fill="none"/>
<rect x="1010.0" y="649.5" width="2.6" height="2.2" fill="#F9A21F"/>
<path d="M1016.3,645.9V664.5" stroke="#C69C6D" stroke-width="1.2" fill="none"/>
<rect x="1015.0" y="658.9" width="2.6" height="2.2" fill="#C69C6D"/>
<path d="M1021.3,643.8V666.6" stroke="#3FAE49" stroke-width="1.2" fill="none"/>
<rect x="1020.0" y="649.5" width="2.6" height="2.2" fill="#3FAE49"/>
<path d="M1026.3,642.7V667.7" stroke="#6B2C91" stroke-width="1.2" fill="none"/>
<rect x="1025.0" y="658.9" width="2.6" height="2.2" fill="#6B2C91"/>
<path d="M1031.3,642.6V667.8" stroke="#F9A21F" stroke-width="1.2" fill="none"/>
<rect x="1030.0" y="649.5" width="2.6" height="2.2" fill="#F9A21F"/>
<path d="M1036.2,643.4V667.0" stroke="#ED1C24" stroke-width="1.2" fill="none"/>
<rect x="1034.9" y="658.9" width="2.6" height="2.2" fill="#ED1C24"/>
<path d="M1041.3,645.1V665.3" stroke="#C69C6D" stroke-width="1.2" fill="none"/>
<rect x="1040.0" y="649.5" width="2.6" height="2.2" fill="#C69C6D"/>
<path d="M1046.3,647.7V662.7" stroke="#6B2C91" stroke-width="1.2" fill="none"/>
<rect x="1045.0" y="658.9" width="2.6" height="2.2" fill="#6B2C91"/>
<path d="M1051.0,650.8V659.6" stroke="#3FAE49" stroke-width="1.2" fill="none"/>
<rect x="1049.7" y="654.1" width="2.6" height="2.2" fill="#3FAE49"/>
<path d="M1076.2,651.6V658.8" stroke="#C69C6D" stroke-width="1.2" fill="none"/>
<rect x="1074.9" y="654.1" width="2.6" height="2.2" fill="#C69C6D"/>
<path d="M1081.0,648.3V662.1" stroke="#1C75BC" stroke-width="1.2" fill="none"/>
<rect x="1079.7" y="649.5" width="2.6" height="2.2" fill="#1C75BC"/>
<path d="M1085.9,645.6V664.8" stroke="#ED1C24" stroke-width="1.2" fill="none"/>
<rect x="1084.6" y="658.9" width="2.6" height="2.2" fill="#ED1C24"/>
<path d="M1091.0,643.6V666.8" stroke="#3FAE49" stroke-width="1.2" fill="none"/>
<rect x="1089.7" y="649.5" width="2.6" height="2.2" fill="#3FAE49"/>
<path d="M1095.9,642.6V667.8" stroke="#6B2C91" stroke-width="1.2" fill="none"/>
<rect x="1094.6" y="658.9" width="2.6" height="2.2" fill="#6B2C91"/>
<clipPath id="occ"><path d="M958.6,620H1013.6V700H958.6ZM1018.4,620H1084.2V700H1018.4ZM1089.2,620H1100.6V700H1089.2Z"/></clipPath>
<g clip-path="url(#occ)">
<path d="M960.60,633.15 L961.60,633.17 L962.60,633.24 L963.60,633.34 L964.60,633.49 L965.60,633.68 L966.60,633.92 L967.60,634.19 L968.60,634.51 L969.60,634.86 L970.60,635.26 L971.60,635.69 L972.60,636.16 L973.60,636.66 L974.60,637.20 L975.60,637.78 L976.60,638.38 L977.60,639.02 L978.60,639.68 L979.60,640.38 L980.60,641.10 L981.60,641.84 L982.60,642.61 L983.60,643.39 L984.60,644.20 L985.60,645.02 L986.60,645.86 L987.60,646.71 L988.60,647.58 L989.60,648.45 L990.60,649.33 L991.60,650.21 L992.60,651.10 L993.60,651.98 L994.60,652.86 L995.60,653.73 L996.60,654.58 L997.60,655.41 L998.60,656.24 L999.60,657.06 L1000.60,657.87 L1001.60,658.66 L1002.60,659.44 L1003.60,660.20 L1004.60,660.95 L1005.60,661.68 L1006.60,662.39 L1007.60,663.08 L1008.60,663.75 L1009.60,664.40 L1010.60,665.02 L1011.60,665.62 L1012.60,666.19 L1013.60,666.74 L1014.60,667.25 L1015.60,667.74 L1016.60,668.20 L1017.60,668.63 L1018.60,669.02 L1019.60,669.39 L1020.60,669.72 L1021.60,670.01 L1022.60,670.28 L1023.60,670.51 L1024.60,670.70 L1025.60,670.86 L1026.60,670.99 L1027.60,671.08 L1028.60,671.13 L1029.60,671.15 L1030.60,671.13 L1031.60,671.08 L1032.60,670.99 L1033.60,670.86 L1034.60,670.70 L1035.60,670.51 L1036.60,670.28 L1037.60,670.01 L1038.60,669.72 L1039.60,669.39 L1040.60,669.02 L1041.60,668.63 L1042.60,668.20 L1043.60,667.74 L1044.60,667.25 L1045.60,666.74 L1046.60,666.19 L1047.60,665.62 L1048.60,665.02 L1049.60,664.40 L1050.60,663.75 L1051.60,663.08 L1052.60,662.39 L1053.60,661.68 L1054.60,660.95 L1055.60,660.20 L1056.60,659.44 L1057.60,658.66 L1058.60,657.87 L1059.60,657.06 L1060.60,656.24 L1061.60,655.41 L1062.60,654.58 L1063.60,653.73 L1064.60,652.86 L1065.60,651.98 L1066.60,651.10 L1067.60,650.21 L1068.60,649.33 L1069.60,648.45 L1070.60,647.58 L1071.60,646.71 L1072.60,645.86 L1073.60,645.02 L1074.60,644.20 L1075.60,643.39 L1076.60,642.61 L1077.60,641.84 L1078.60,641.10 L1079.60,640.38 L1080.60,639.68 L1081.60,639.02 L1082.60,638.38 L1083.60,637.78 L1084.60,637.20 L1085.60,636.66 L1086.60,636.16 L1087.60,635.69 L1088.60,635.26 L1089.60,634.86 L1090.60,634.51 L1091.60,634.19 L1092.60,633.92 L1093.60,633.68 L1094.60,633.49 L1095.60,633.34 L1096.60,633.24 L1097.60,633.17 L1098.60,633.15 L1098.60,639.25 L1097.60,639.27 L1096.60,639.32 L1095.60,639.41 L1094.60,639.54 L1093.60,639.70 L1092.60,639.89 L1091.60,640.12 L1090.60,640.39 L1089.60,640.68 L1088.60,641.01 L1087.60,641.38 L1086.60,641.77 L1085.60,642.20 L1084.60,642.66 L1083.60,643.15 L1082.60,643.66 L1081.60,644.21 L1080.60,644.78 L1079.60,645.38 L1078.60,646.00 L1077.60,646.65 L1076.60,647.32 L1075.60,648.01 L1074.60,648.72 L1073.60,649.45 L1072.60,650.20 L1071.60,650.96 L1070.60,651.74 L1069.60,652.53 L1068.60,653.34 L1067.60,654.16 L1066.60,654.99 L1065.60,655.82 L1064.60,656.67 L1063.60,657.54 L1062.60,658.42 L1061.60,659.30 L1060.60,660.19 L1059.60,661.07 L1058.60,661.95 L1057.60,662.82 L1056.60,663.69 L1055.60,664.54 L1054.60,665.38 L1053.60,666.20 L1052.60,667.01 L1051.60,667.79 L1050.60,668.56 L1049.60,669.30 L1048.60,670.02 L1047.60,670.72 L1046.60,671.38 L1045.60,672.02 L1044.60,672.62 L1043.60,673.20 L1042.60,673.74 L1041.60,674.24 L1040.60,674.71 L1039.60,675.14 L1038.60,675.54 L1037.60,675.89 L1036.60,676.21 L1035.60,676.48 L1034.60,676.72 L1033.60,676.91 L1032.60,677.06 L1031.60,677.16 L1030.60,677.23 L1029.60,677.25 L1028.60,677.23 L1027.60,677.16 L1026.60,677.06 L1025.60,676.91 L1024.60,676.72 L1023.60,676.48 L1022.60,676.21 L1021.60,675.89 L1020.60,675.54 L1019.60,675.14 L1018.60,674.71 L1017.60,674.24 L1016.60,673.74 L1015.60,673.20 L1014.60,672.62 L1013.60,672.02 L1012.60,671.38 L1011.60,670.72 L1010.60,670.02 L1009.60,669.30 L1008.60,668.56 L1007.60,667.79 L1006.60,667.01 L1005.60,666.20 L1004.60,665.38 L1003.60,664.54 L1002.60,663.69 L1001.60,662.82 L1000.60,661.95 L999.60,661.07 L998.60,660.19 L997.60,659.30 L996.60,658.42 L995.60,657.54 L994.60,656.67 L993.60,655.82 L992.60,654.99 L991.60,654.16 L990.60,653.34 L989.60,652.53 L988.60,651.74 L987.60,650.96 L986.60,650.20 L985.60,649.45 L984.60,648.72 L983.60,648.01 L982.60,647.32 L981.60,646.65 L980.60,646.00 L979.60,645.38 L978.60,644.78 L977.60,644.21 L976.60,643.66 L975.60,643.15 L974.60,642.66 L973.60,642.20 L972.60,641.77 L971.60,641.38 L970.60,641.01 L969.60,640.68 L968.60,640.39 L967.60,640.12 L966.60,639.89 L965.60,639.70 L964.60,639.54 L963.60,639.41 L962.60,639.32 L961.60,639.27 L960.60,639.25Z" fill="#F9A21F"/>
</g>
<path d="M982.10,661.72 L983.06,661.07 L984.03,660.39 L984.99,659.70 L985.95,658.99 L986.91,658.27 L987.88,657.52 L988.84,656.77 L989.80,656.00 L990.77,655.22 L991.73,654.44 L992.69,653.64 L993.66,652.83 L994.62,652.01 L995.58,651.18 L996.54,650.33 L997.51,649.48 L998.47,648.63 L999.43,647.78 L1000.40,646.93 L1001.36,646.09 L1002.32,645.25 L1003.29,644.43 L1004.25,643.62 L1005.21,642.82 L1006.17,642.03 L1007.14,641.27 L1008.10,640.52 L1008.10,648.68 L1007.14,649.33 L1006.17,650.01 L1005.21,650.70 L1004.25,651.41 L1003.29,652.13 L1002.32,652.88 L1001.36,653.63 L1000.40,654.40 L999.43,655.18 L998.47,655.96 L997.51,656.76 L996.54,657.57 L995.58,658.39 L994.62,659.22 L993.66,660.07 L992.69,660.92 L991.73,661.77 L990.77,662.62 L989.80,663.47 L988.84,664.31 L987.88,665.15 L986.91,665.97 L985.95,666.78 L984.99,667.58 L984.03,668.37 L983.06,669.13 L982.10,669.88Z" fill="#fff"/>
<path d="M960.60,671.15 L961.60,671.13 L962.60,671.08 L963.60,670.99 L964.60,670.86 L965.60,670.70 L966.60,670.51 L967.60,670.28 L968.60,670.01 L969.60,669.72 L970.60,669.39 L971.60,669.02 L972.60,668.63 L973.60,668.20 L974.60,667.74 L975.60,667.25 L976.60,666.74 L977.60,666.19 L978.60,665.62 L979.60,665.02 L980.60,664.40 L981.60,663.75 L982.60,663.08 L983.60,662.39 L984.60,661.68 L985.60,660.95 L986.60,660.20 L987.60,659.44 L988.60,658.66 L989.60,657.87 L990.60,657.06 L991.60,656.24 L992.60,655.41 L993.60,654.58 L994.60,653.73 L995.60,652.86 L996.60,651.98 L997.60,651.10 L998.60,650.21 L999.60,649.33 L1000.60,648.45 L1001.60,647.58 L1002.60,646.71 L1003.60,645.86 L1004.60,645.02 L1005.60,644.20 L1006.60,643.39 L1007.60,642.61 L1008.60,641.84 L1009.60,641.10 L1010.60,640.38 L1011.60,639.68 L1012.60,639.02 L1013.60,638.38 L1014.60,637.78 L1015.60,637.20 L1016.60,636.66 L1017.60,636.16 L1018.60,635.69 L1019.60,635.26 L1020.60,634.86 L1021.60,634.51 L1022.60,634.19 L1023.60,633.92 L1024.60,633.68 L1025.60,633.49 L1026.60,633.34 L1027.60,633.24 L1028.60,633.17 L1029.60,633.15 L1030.60,633.17 L1031.60,633.24 L1032.60,633.34 L1033.60,633.49 L1034.60,633.68 L1035.60,633.92 L1036.60,634.19 L1037.60,634.51 L1038.60,634.86 L1039.60,635.26 L1040.60,635.69 L1041.60,636.16 L1042.60,636.66 L1043.60,637.20 L1044.60,637.78 L1045.60,638.38 L1046.60,639.02 L1047.60,639.68 L1048.60,640.38 L1049.60,641.10 L1050.60,641.84 L1051.60,642.61 L1052.60,643.39 L1053.60,644.20 L1054.60,645.02 L1055.60,645.86 L1056.60,646.71 L1057.60,647.58 L1058.60,648.45 L1059.60,649.33 L1060.60,650.21 L1061.60,651.10 L1062.60,651.98 L1063.60,652.86 L1064.60,653.73 L1065.60,654.58 L1066.60,655.41 L1067.60,656.24 L1068.60,657.06 L1069.60,657.87 L1070.60,658.66 L1071.60,659.44 L1072.60,660.20 L1073.60,660.95 L1074.60,661.68 L1075.60,662.39 L1076.60,663.08 L1077.60,663.75 L1078.60,664.40 L1079.60,665.02 L1080.60,665.62 L1081.60,666.19 L1082.60,666.74 L1083.60,667.25 L1084.60,667.74 L1085.60,668.20 L1086.60,668.63 L1087.60,669.02 L1088.60,669.39 L1089.60,669.72 L1090.60,670.01 L1091.60,670.28 L1092.60,670.51 L1093.60,670.70 L1094.60,670.86 L1095.60,670.99 L1096.60,671.08 L1097.60,671.13 L1098.60,671.15 L1098.60,677.25 L1097.60,677.23 L1096.60,677.16 L1095.60,677.06 L1094.60,676.91 L1093.60,676.72 L1092.60,676.48 L1091.60,676.21 L1090.60,675.89 L1089.60,675.54 L1088.60,675.14 L1087.60,674.71 L1086.60,674.24 L1085.60,673.74 L1084.60,673.20 L1083.60,672.62 L1082.60,672.02 L1081.60,671.38 L1080.60,670.72 L1079.60,670.02 L1078.60,669.30 L1077.60,668.56 L1076.60,667.79 L1075.60,667.01 L1074.60,666.20 L1073.60,665.38 L1072.60,664.54 L1071.60,663.69 L1070.60,662.82 L1069.60,661.95 L1068.60,661.07 L1067.60,660.19 L1066.60,659.30 L1065.60,658.42 L1064.60,657.54 L1063.60,656.67 L1062.60,655.82 L1061.60,654.99 L1060.60,654.16 L1059.60,653.34 L1058.60,652.53 L1057.60,651.74 L1056.60,650.96 L1055.60,650.20 L1054.60,649.45 L1053.60,648.72 L1052.60,648.01 L1051.60,647.32 L1050.60,646.65 L1049.60,646.00 L1048.60,645.38 L1047.60,644.78 L1046.60,644.21 L1045.60,643.66 L1044.60,643.15 L1043.60,642.66 L1042.60,642.20 L1041.60,641.77 L1040.60,641.38 L1039.60,641.01 L1038.60,640.68 L1037.60,640.39 L1036.60,640.12 L1035.60,639.89 L1034.60,639.70 L1033.60,639.54 L1032.60,639.41 L1031.60,639.32 L1030.60,639.27 L1029.60,639.25 L1028.60,639.27 L1027.60,639.32 L1026.60,639.41 L1025.60,639.54 L1024.60,639.70 L1023.60,639.89 L1022.60,640.12 L1021.60,640.39 L1020.60,640.68 L1019.60,641.01 L1018.60,641.38 L1017.60,641.77 L1016.60,642.20 L1015.60,642.66 L1014.60,643.15 L1013.60,643.66 L1012.60,644.21 L1011.60,644.78 L1010.60,645.38 L1009.60,646.00 L1008.60,646.65 L1007.60,647.32 L1006.60,648.01 L1005.60,648.72 L1004.60,649.45 L1003.60,650.20 L1002.60,650.96 L1001.60,651.74 L1000.60,652.53 L999.60,653.34 L998.60,654.16 L997.60,654.99 L996.60,655.82 L995.60,656.67 L994.60,657.54 L993.60,658.42 L992.60,659.30 L991.60,660.19 L990.60,661.07 L989.60,661.95 L988.60,662.82 L987.60,663.69 L986.60,664.54 L985.60,665.38 L984.60,666.20 L983.60,667.01 L982.60,667.79 L981.60,668.56 L980.60,669.30 L979.60,670.02 L978.60,670.72 L977.60,671.38 L976.60,672.02 L975.60,672.62 L974.60,673.20 L973.60,673.74 L972.60,674.24 L971.60,674.71 L970.60,675.14 L969.60,675.54 L968.60,675.89 L967.60,676.21 L966.60,676.48 L965.60,676.72 L964.60,676.91 L963.60,677.06 L962.60,677.16 L961.60,677.23 L960.60,677.25Z" fill="#21407F"/>
<path d="M1051.10,661.72 L1052.06,661.07 L1053.03,660.39 L1053.99,659.70 L1054.95,658.99 L1055.91,658.27 L1056.88,657.52 L1057.84,656.77 L1058.80,656.00 L1059.77,655.22 L1060.73,654.44 L1061.69,653.64 L1062.66,652.83 L1063.62,652.01 L1064.58,651.18 L1065.54,650.33 L1066.51,649.48 L1067.47,648.63 L1068.43,647.78 L1069.40,646.93 L1070.36,646.09 L1071.32,645.25 L1072.29,644.43 L1073.25,643.62 L1074.21,642.82 L1075.17,642.03 L1076.14,641.27 L1077.10,640.52 L1077.10,648.68 L1076.14,649.33 L1075.17,650.01 L1074.21,650.70 L1073.25,651.41 L1072.29,652.13 L1071.32,652.88 L1070.36,653.63 L1069.40,654.40 L1068.43,655.18 L1067.47,655.96 L1066.51,656.76 L1065.54,657.57 L1064.58,658.39 L1063.62,659.22 L1062.66,660.07 L1061.69,660.92 L1060.73,661.77 L1059.77,662.62 L1058.80,663.47 L1057.84,664.31 L1056.88,665.15 L1055.91,665.97 L1054.95,666.78 L1053.99,667.58 L1053.03,668.37 L1052.06,669.13 L1051.10,669.88Z" fill="#fff"/>
<g clip-path="url(#occ)"><path d="M1050.60,663.75 L1051.56,663.11 L1052.53,662.44 L1053.49,661.76 L1054.46,661.06 L1055.42,660.34 L1056.39,659.60 L1057.35,658.86 L1058.31,658.09 L1059.28,657.32 L1060.24,656.54 L1061.21,655.74 L1062.17,654.94 L1063.14,654.12 L1064.10,653.30 L1065.06,652.46 L1066.03,651.60 L1066.99,650.75 L1067.96,649.90 L1068.92,649.05 L1069.89,648.20 L1070.85,647.36 L1071.81,646.53 L1072.78,645.71 L1073.74,644.90 L1074.71,644.11 L1075.67,643.34 L1076.64,642.58 L1077.60,641.84 L1077.60,646.65 L1076.64,647.29 L1075.67,647.96 L1074.71,648.64 L1073.74,649.34 L1072.78,650.06 L1071.81,650.80 L1070.85,651.54 L1069.89,652.31 L1068.92,653.08 L1067.96,653.86 L1066.99,654.66 L1066.03,655.46 L1065.06,656.28 L1064.10,657.10 L1063.14,657.94 L1062.17,658.80 L1061.21,659.65 L1060.24,660.50 L1059.28,661.35 L1058.31,662.20 L1057.35,663.04 L1056.39,663.87 L1055.42,664.69 L1054.46,665.50 L1053.49,666.29 L1052.53,667.06 L1051.56,667.82 L1050.60,668.56Z" fill="#F9A21F"/></g>
<path d="M1086.3,630 V621.3 H1107.2 V687.9 H1016 V680" stroke="#9A9A9A" stroke-width="3.0" fill="none"/>
<path d="M1086.3,637 L1081.7,627 L1086.3,629.2 L1090.9,627 Z" fill="#9A9A9A"/>
<path d="M1016,673.6 L1011.4,683.6 L1016,681.4 L1020.6,683.6 Z" fill="#9A9A9A"/>
<rect x="789.4" y="752.8" width="4.8" height="20.7" fill="#F9A21F"/>
<rect x="789.4" y="773.5" width="4.8" height="20.7" fill="#21407F"/>
<rect x="798.8" y="759.0" width="4.8" height="14.5" fill="#F9A21F"/>
<rect x="798.8" y="773.5" width="4.8" height="14.5" fill="#21407F"/>
<path d="M841.6,752 H846.2 V764.8 H841.6 Z M855.9,750 H860.8 V764.8 H855.9Z M830.4,758.5 H834.4 V764.8 H830.4Z" fill="#21407F"/>
<path d="M841.6,795 H846.2 V782.6 H841.6 Z M855.9,797 H860.8 V782.6 H855.9Z M826.9,787.2 H831.1 V782.6 H826.9Z" fill="#F9A21F"/>
<path d="M782.00,796.50 L783.19,796.46 L784.39,796.36 L785.58,796.18 L786.78,795.94 L787.97,795.63 L789.16,795.24 L790.36,794.80 L791.55,794.28 L792.75,793.71 L793.94,793.07 L795.13,792.37 L796.33,791.62 L797.52,790.80 L798.72,789.94 L799.91,789.02 L801.10,788.06 L802.30,787.06 L803.49,786.01 L804.68,784.92 L805.88,783.80 L807.07,782.65 L808.27,781.47 L809.46,780.26 L810.65,779.04 L811.85,777.79 L813.04,776.54 L814.24,775.27 L815.43,774.00 L816.62,772.61 L817.82,771.14 L819.01,769.68 L820.21,768.24 L821.40,766.82 L822.59,765.42 L823.79,764.06 L824.98,762.74 L826.18,761.46 L827.37,760.23 L828.56,759.06 L829.76,757.94 L830.95,756.89 L832.15,755.91 L833.34,755.00 L834.53,754.16 L835.73,753.40 L836.92,752.73 L838.12,752.14 L839.31,751.64 L840.50,751.23 L841.70,750.90 L842.89,750.68 L844.08,750.54 L845.28,750.50 L846.47,750.50 L847.67,750.50 L848.86,750.50 L850.05,750.50 L851.25,750.50 L852.44,750.50 L853.64,750.50 L854.83,750.50 L856.02,750.50 L857.22,750.50 L858.41,750.50 L859.61,750.50 L860.80,750.50" fill="none" stroke="#21407F" stroke-width="4.9"/>
<path d="M782.00,750.50 L783.19,750.54 L784.39,750.64 L785.58,750.82 L786.78,751.06 L787.97,751.37 L789.16,751.76 L790.36,752.20 L791.55,752.72 L792.75,753.29 L793.94,753.93 L795.13,754.63 L796.33,755.38 L797.52,756.20 L798.72,757.06 L799.91,757.98 L801.10,758.94 L802.30,759.94 L803.49,760.99 L804.68,762.08 L805.88,763.20 L807.07,764.35 L808.27,765.53 L809.46,766.74 L810.65,767.96 L811.85,769.21 L813.04,770.46 L814.24,771.73 L815.43,773.00 L816.62,774.39 L817.82,775.86 L819.01,777.32 L820.21,778.76 L821.40,780.18 L822.59,781.58 L823.79,782.94 L824.98,784.26 L826.18,785.54 L827.37,786.77 L828.56,787.94 L829.76,789.06 L830.95,790.11 L832.15,791.09 L833.34,792.00 L834.53,792.84 L835.73,793.60 L836.92,794.27 L838.12,794.86 L839.31,795.36 L840.50,795.77 L841.70,796.10 L842.89,796.32 L844.08,796.46 L845.28,796.50 L846.47,796.50 L847.67,796.50 L848.86,796.50 L850.05,796.50 L851.25,796.50 L852.44,796.50 L853.64,796.50 L854.83,796.50 L856.02,796.50 L857.22,796.50 L858.41,796.50 L859.61,796.50 L860.80,796.50" fill="none" stroke="#F9A21F" stroke-width="4.9"/>
<circle cx="843.5" cy="779.9" r="2.35" fill="#F15A29"/>
<circle cx="848.3" cy="779.9" r="2.35" fill="#F15A29"/>
<circle cx="853.2" cy="779.9" r="2.35" fill="#F15A29"/>
<circle cx="858.1" cy="779.9" r="2.35" fill="#F15A29"/>
<rect x="985.6" y="760.2" width="4.6" height="13.1" fill="#F9A21F"/>
<rect x="985.6" y="773.9" width="4.6" height="12.5" fill="#21407F"/>
<rect x="1080.6" y="759.8" width="4.6" height="13.5" fill="#F9A21F"/>
<rect x="1080.6" y="773.9" width="4.6" height="12.9" fill="#21407F"/>
<path d="M1025.3,752 H1029.7 V764.4 H1025.3Z M1040,752 H1044.7 V764.4 H1040Z M1016.6,757 H1021 V764.4 H1016.6Z M1052.4,757 H1056.8 V764.4 H1052.4Z" fill="#21407F"/>
<path d="M1025.3,795 H1029.7 V782.8 H1025.3Z M1040,795 H1044.7 V782.8 H1040Z M1016.6,790 H1021 V782.8 H1016.6Z M1052.4,790 H1056.8 V782.8 H1052.4Z" fill="#F9A21F"/>
<clipPath id="icl"><rect x="980.0" y="740" width="109.70000000000005" height="70"/></clipPath><g clip-path="url(#icl)">
<path d="M977.00,794.73 L978.19,794.26 L979.39,793.72 L980.58,793.10 L981.77,792.40 L982.96,791.64 L984.16,790.80 L985.35,789.89 L986.54,788.93 L987.74,787.90 L988.93,786.82 L990.12,785.68 L991.31,784.50 L992.51,783.28 L993.70,782.02 L994.89,780.72 L996.08,779.40 L997.28,778.06 L998.47,776.69 L999.66,775.32 L1000.86,773.93 L1002.05,772.62 L1003.24,771.38 L1004.43,770.14 L1005.63,768.91 L1006.82,767.69 L1008.01,766.49 L1009.21,765.32 L1010.40,764.16 L1011.59,763.04 L1012.78,761.94 L1013.98,760.89 L1015.17,759.87 L1016.36,758.89 L1017.55,757.95 L1018.75,757.06 L1019.94,756.22 L1021.13,755.44 L1022.33,754.71 L1023.52,754.03 L1024.71,753.42 L1025.90,752.87 L1027.10,752.38 L1028.29,751.95 L1029.48,751.59 L1030.68,751.30 L1031.87,751.07 L1033.06,750.91 L1034.25,750.82 L1035.45,750.80 L1036.64,750.85 L1037.83,750.97 L1039.02,751.15 L1040.22,751.41 L1041.41,751.73 L1042.60,752.11 L1043.80,752.56 L1044.99,753.07 L1046.18,753.65 L1047.37,754.29 L1048.57,754.98 L1049.76,755.73 L1050.95,756.53 L1052.15,757.39 L1053.34,758.29 L1054.53,759.24 L1055.72,760.23 L1056.92,761.26 L1058.11,762.33 L1059.30,763.43 L1060.49,764.56 L1061.69,765.72 L1062.88,766.91 L1064.07,768.11 L1065.27,769.32 L1066.46,770.55 L1067.65,771.79 L1068.84,773.03 L1070.04,774.39 L1071.23,775.77 L1072.42,777.14 L1073.62,778.50 L1074.81,779.84 L1076.00,781.15 L1077.19,782.44 L1078.39,783.69 L1079.58,784.90 L1080.77,786.06 L1081.96,787.18 L1083.16,788.24 L1084.35,789.25 L1085.54,790.20 L1086.74,791.08 L1087.93,791.90 L1089.12,792.64 L1090.31,793.31 L1091.51,793.91 L1092.70,794.43" fill="none" stroke="#21407F" stroke-width="4.9"/>
<path d="M977.00,751.87 L978.19,752.34 L979.39,752.88 L980.58,753.50 L981.77,754.20 L982.96,754.96 L984.16,755.80 L985.35,756.71 L986.54,757.67 L987.74,758.70 L988.93,759.78 L990.12,760.92 L991.31,762.10 L992.51,763.32 L993.70,764.58 L994.89,765.88 L996.08,767.20 L997.28,768.54 L998.47,769.91 L999.66,771.28 L1000.86,772.67 L1002.05,773.98 L1003.24,775.22 L1004.43,776.46 L1005.63,777.69 L1006.82,778.91 L1008.01,780.11 L1009.21,781.28 L1010.40,782.44 L1011.59,783.56 L1012.78,784.66 L1013.98,785.71 L1015.17,786.73 L1016.36,787.71 L1017.55,788.65 L1018.75,789.54 L1019.94,790.38 L1021.13,791.16 L1022.33,791.89 L1023.52,792.57 L1024.71,793.18 L1025.90,793.73 L1027.10,794.22 L1028.29,794.65 L1029.48,795.01 L1030.68,795.30 L1031.87,795.53 L1033.06,795.69 L1034.25,795.78 L1035.45,795.80 L1036.64,795.75 L1037.83,795.63 L1039.02,795.45 L1040.22,795.19 L1041.41,794.87 L1042.60,794.49 L1043.80,794.04 L1044.99,793.53 L1046.18,792.95 L1047.37,792.31 L1048.57,791.62 L1049.76,790.87 L1050.95,790.07 L1052.15,789.21 L1053.34,788.31 L1054.53,787.36 L1055.72,786.37 L1056.92,785.34 L1058.11,784.27 L1059.30,783.17 L1060.49,782.04 L1061.69,780.88 L1062.88,779.69 L1064.07,778.49 L1065.27,777.28 L1066.46,776.05 L1067.65,774.81 L1068.84,773.57 L1070.04,772.21 L1071.23,770.83 L1072.42,769.46 L1073.62,768.10 L1074.81,766.76 L1076.00,765.45 L1077.19,764.16 L1078.39,762.91 L1079.58,761.70 L1080.77,760.54 L1081.96,759.42 L1083.16,758.36 L1084.35,757.35 L1085.54,756.40 L1086.74,755.52 L1087.93,754.70 L1089.12,753.96 L1090.31,753.29 L1091.51,752.69 L1092.70,752.17" fill="none" stroke="#F9A21F" stroke-width="4.9"/>
</g>
<path d="M1026.4,779.4 L1043.6,766.6" stroke="#F15A29" stroke-width="3.2" stroke-linecap="round"/>
<clipPath id="crownclip"><rect x="989.3" y="44" width="108.5" height="80"/></clipPath>
<g clip-path="url(#crownclip)" fill="none" stroke="#F9A21F" stroke-linejoin="miter" stroke-miterlimit="10">
<path d="M1012.3,86.1 L992.2,106.2 V117.2 H1095.2 V106.9 L1043.5,55.3 L1020.9,78" stroke-width="5.2"/>
<path d="M986.3,53.2 L1043.5,107.1 L1065.3,85.4" stroke-width="5.2"/>
<path d="M1101,49.8 L1072.7,77.1" stroke-width="5.2"/>
<path d="M1045.8,65.7 L1028.3,83.4 M1052.6,72.3 L1034.6,89.8 M1058.9,78.9 L1041.7,96.1" stroke-width="4.0"/>
<path d="M986,72.5 L992.9,66.2 M986,86.2 L999.1,73.9 M986,99.6 L1000.5,85.4" stroke-width="4.0"/>
<path d="M1101,63.2 L1085.8,77.6 M1101,75.8 L1086.5,90.3 M1101,90 L1093.5,97.2" stroke-width="4.0"/>
</g>
<circle cx="1003.4" cy="81.3" r="4.2" fill="#21407F" stroke="#fff" stroke-width="1.4"/>
<circle cx="1043.5" cy="81.1" r="4.2" fill="#21407F" stroke="#fff" stroke-width="1.4"/>
<circle cx="1082.0" cy="81.3" r="4.2" fill="#21407F" stroke="#fff" stroke-width="1.4"/>
<rect x="989.5" y="125" width="108.1" height="4.9" fill="#21407F"/>
<text x="950.9" y="175.8" font-size="43.6" font-weight="normal" fill="#21407F" textLength="185.8" lengthAdjust="spacingAndGlyphs" stroke="#21407F" stroke-width="1.4">CrownBio</text>
<text x="951.3" y="193.0" font-size="10.5" font-weight="normal" fill="#21407F" textLength="185.0" lengthAdjust="spacingAndGlyphs" stroke="#21407F" stroke-width="0.25">CONNECTING SCIENCE TO PATIENTS</text>
<path d="M386.7,636.7L396.7,638.7M402.4,643.3L405.3,652.0M405.3,652.0L398.0,661.3M402.7,652.1L397.5,658.8M391.3,663.3L381.3,660.7M381.3,660.7L377.7,647.3M382.8,658.3L380.2,648.7M377.7,647.3L386.7,636.7M377.7,647.3L367.3,647.7M362.7,651.3L359.3,660.0M364.1,653.3L361.7,659.5M359.3,660.0L367.3,665.3M374.0,665.3L381.3,660.7M386.7,636.7L383.3,628.7" fill="none" stroke="#2A4A9A" stroke-width="0.9" stroke-linecap="round"/>
<text x="400.0" y="643.0" font-size="8.2" font-weight="normal" fill="#2A4A9A" text-anchor="middle">N</text>
<text x="394.7" y="667.2" font-size="8.2" font-weight="normal" fill="#2A4A9A" text-anchor="middle">N</text>
<text x="363.7" y="650.7" font-size="8.2" font-weight="normal" fill="#2A4A9A" text-anchor="middle">N</text>
<text x="370.7" y="670.3" font-size="8.2" font-weight="normal" fill="#2A4A9A" text-anchor="middle">N</text>
<text x="370.7" y="677.0" font-size="8.2" font-weight="normal" fill="#2A4A9A" text-anchor="middle">H</text>
<text x="372.0" y="627.6" font-size="8.2" font-weight="normal" fill="#2A4A9A" text-anchor="middle">H</text>
<text x="377.1" y="631.0" font-size="5.3" font-weight="normal" fill="#2A4A9A" text-anchor="middle">2</text>
<text x="381.7" y="627.6" font-size="8.2" font-weight="normal" fill="#2A4A9A" text-anchor="middle">N</text>
<path d="M435.3,638.7L444.7,643.7M435.7,641.1L442.4,644.8M447.3,648.7L447.3,658.7M446.9,659.4L455.5,664.8M447.8,657.9L456.5,663.2M447.3,658.7L438.7,663.3M432.0,663.3L423.7,659.3M423.7,659.3L423.7,644.7M425.7,657.3L425.7,646.7M423.7,644.7L435.3,638.7M435.3,638.7L435.3,630.0" fill="none" stroke="#2A4A9A" stroke-width="0.9" stroke-linecap="round"/>
<text x="447.3" y="648.3" font-size="8.2" font-weight="normal" fill="#2A4A9A" text-anchor="middle">N</text>
<text x="459.1" y="668.3" font-size="8.2" font-weight="normal" fill="#2A4A9A" text-anchor="middle">O</text>
<text x="435.3" y="667.6" font-size="8.2" font-weight="normal" fill="#2A4A9A" text-anchor="middle">N</text>
<text x="435.3" y="674.3" font-size="8.2" font-weight="normal" fill="#2A4A9A" text-anchor="middle">H</text>
<text x="435.3" y="627.6" font-size="8.2" font-weight="normal" fill="#2A4A9A" text-anchor="middle">N</text>
<text x="441.7" y="627.6" font-size="8.2" font-weight="normal" fill="#2A4A9A" text-anchor="middle">H</text>
<text x="446.3" y="631.0" font-size="5.3" font-weight="normal" fill="#2A4A9A" text-anchor="middle">2</text>
<path d="M374.5,699.7L371.2,691.0M372.8,700.3L369.5,691.7M373.7,700.0L381.7,702.4M387.7,706.7L391.0,716.0M391.0,716.0L399.7,717.3M391.0,716.0L384.1,724.7M388.5,716.0L383.5,722.2M377.7,726.3L367.7,723.3M367.7,723.3L364.1,710.3M369.1,721.0L366.5,711.6M364.1,710.3L373.7,700.0M364.1,710.3L353.4,710.3M348.7,713.7L345.4,722.7M350.1,715.7L347.7,722.1M345.4,722.7L353.7,728.7M360.3,728.7L367.7,723.3" fill="none" stroke="#2A4A9A" stroke-width="0.9" stroke-linecap="round"/>
<text x="369.0" y="690.3" font-size="8.2" font-weight="normal" fill="#2A4A9A" text-anchor="middle">O</text>
<text x="385.4" y="706.3" font-size="8.2" font-weight="normal" fill="#2A4A9A" text-anchor="middle">N</text>
<text x="391.8" y="706.3" font-size="8.2" font-weight="normal" fill="#2A4A9A" text-anchor="middle">H</text>
<text x="403.7" y="721.0" font-size="8.2" font-weight="normal" fill="#2A4A9A" text-anchor="middle">N</text>
<text x="409.9" y="721.0" font-size="8.2" font-weight="normal" fill="#2A4A9A" text-anchor="middle">H</text>
<text x="414.5" y="724.6" font-size="5.3" font-weight="normal" fill="#2A4A9A" text-anchor="middle">2</text>
<text x="381.0" y="730.3" font-size="8.2" font-weight="normal" fill="#2A4A9A" text-anchor="middle">N</text>
<text x="349.7" y="713.2" font-size="8.2" font-weight="normal" fill="#2A4A9A" text-anchor="middle">N</text>
<text x="357.0" y="733.6" font-size="8.2" font-weight="normal" fill="#2A4A9A" text-anchor="middle">N</text>
<text x="357.0" y="740.3" font-size="8.2" font-weight="normal" fill="#2A4A9A" text-anchor="middle">H</text>
<path d="M457.2,702.0L457.2,692.0M455.4,702.0L455.4,692.0M456.3,702.0L465.0,706.7M468.3,712.4L468.3,722.7M467.9,723.4L476.5,728.8M468.8,721.9L477.5,727.2M468.3,722.7L459.7,727.6M453.0,727.6L444.7,722.7M444.7,722.7L444.7,708.9M446.7,720.7L446.7,710.9M444.7,708.9L456.3,702.0M444.7,708.9L433.0,702.0" fill="none" stroke="#2A4A9A" stroke-width="0.9" stroke-linecap="round"/>
<text x="456.3" y="691.0" font-size="8.2" font-weight="normal" fill="#2A4A9A" text-anchor="middle">O</text>
<text x="468.3" y="711.9" font-size="8.2" font-weight="normal" fill="#2A4A9A" text-anchor="middle">N</text>
<text x="474.6" y="711.9" font-size="8.2" font-weight="normal" fill="#2A4A9A" text-anchor="middle">H</text>
<text x="480.1" y="732.7" font-size="8.2" font-weight="normal" fill="#2A4A9A" text-anchor="middle">O</text>
<text x="456.3" y="732.3" font-size="8.2" font-weight="normal" fill="#2A4A9A" text-anchor="middle">N</text>
<text x="456.3" y="739.0" font-size="8.2" font-weight="normal" fill="#2A4A9A" text-anchor="middle">H</text>
<text x="422.3" y="699.6" font-size="8.2" font-weight="normal" fill="#2A4A9A" text-anchor="middle">H</text>
<text x="427.3" y="702.9" font-size="5.3" font-weight="normal" fill="#2A4A9A" text-anchor="middle">3</text>
<text x="431.9" y="699.6" font-size="8.2" font-weight="normal" fill="#2A4A9A" text-anchor="middle">C</text>
<path d="M624.6,686.6L635.2,686.6M629.9,686.6L629.9,696.9M633.7,701.1L644.5,701.4M644.5,701.4L653.3,711.9M653.3,711.9L657.4,707.1M653.3,711.9L656.5,725.1M656.5,725.1L667.0,725.5M667.0,725.5L670.6,712.7M670.6,711.8L681.0,711.8M671.6,713.2L681.0,713.2M656.5,725.1L656.5,732.4M656.5,739.8L656.5,746.2M651.7,746.2L661.7,746.2" fill="none" stroke="#2A4A9A" stroke-width="0.9" stroke-linecap="round"/>
<text x="629.9" y="703.8" font-size="7.6" font-weight="normal" fill="#2A4A9A" text-anchor="middle">O</text>
<text x="660.1" y="708.0" font-size="7.6" font-weight="normal" fill="#2A4A9A" text-anchor="middle">O</text>
<text x="666.5" y="708.0" font-size="7.6" font-weight="normal" fill="#2A4A9A" text-anchor="middle">H</text>
<text x="685.7" y="715.0" font-size="7.6" font-weight="normal" fill="#2A4A9A" text-anchor="middle">O</text>
<text x="656.5" y="739.1" font-size="7.6" font-weight="normal" fill="#2A4A9A" text-anchor="middle">O</text>
<path d="M685.4,763.7L685.4,753.4M683.6,763.7L683.6,753.4M684.5,763.7L693.8,769.1M698.1,775.1L698.1,785.9M698.1,785.9L707.1,791.3M698.1,785.9L687.8,791.9M695.6,785.0L688.2,789.4M680.4,791.9L670.6,785.9M670.6,785.9L670.6,771.1M672.6,783.8L672.6,773.2M670.6,771.1L684.5,763.7M670.6,771.1L660.7,767.9M654.6,769.9L647.8,778.1M656.0,771.1L649.2,779.3M648.5,777.8L637.9,777.8M648.5,779.6L637.9,779.6M648.5,778.7L654.1,788.9M660.7,790.1L670.6,785.9" fill="none" stroke="#2A4A9A" stroke-width="0.9" stroke-linecap="round"/>
<text x="684.5" y="751.6" font-size="7.6" font-weight="normal" fill="#2A4A9A" text-anchor="middle">O</text>
<text x="698.1" y="773.9" font-size="7.6" font-weight="normal" fill="#2A4A9A" text-anchor="middle">N</text>
<text x="704.1" y="773.9" font-size="7.6" font-weight="normal" fill="#2A4A9A" text-anchor="middle">H</text>
<text x="711.3" y="796.8" font-size="7.6" font-weight="normal" fill="#2A4A9A" text-anchor="middle">N</text>
<text x="717.3" y="796.8" font-size="7.6" font-weight="normal" fill="#2A4A9A" text-anchor="middle">H</text>
<text x="722.5" y="800.3" font-size="4.9" font-weight="normal" fill="#2A4A9A" text-anchor="middle">2</text>
<text x="684.0" y="796.8" font-size="7.6" font-weight="normal" fill="#2A4A9A" text-anchor="middle">N</text>
<text x="656.9" y="769.6" font-size="7.6" font-weight="normal" fill="#2A4A9A" text-anchor="middle">N</text>
<text x="656.9" y="761.6" font-size="7.6" font-weight="normal" fill="#2A4A9A" text-anchor="middle">H</text>
<text x="633.1" y="781.4" font-size="7.6" font-weight="normal" fill="#2A4A9A" text-anchor="middle">O</text>
<text x="657.1" y="794.1" font-size="7.6" font-weight="normal" fill="#2A4A9A" text-anchor="middle">N</text>
</svg>
</body></html>
